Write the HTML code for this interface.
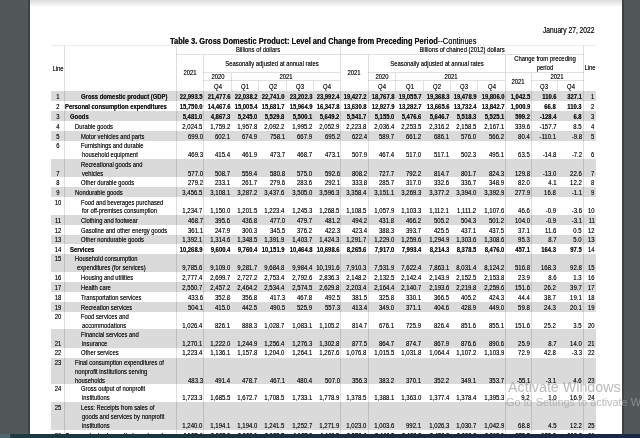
<!DOCTYPE html>
<html><head><meta charset="utf-8"><style>
html,body{margin:0;padding:0;}
body{width:640px;height:438px;overflow:hidden;position:relative;background:#52575a;font-family:"Liberation Sans", sans-serif;}
.t{position:absolute;white-space:nowrap;text-shadow:0 0 0.45px rgba(0,0,0,0.75);}
.r{position:absolute;}
.w{position:absolute;white-space:nowrap;}
</style></head><body>
<div class="r" style="left:0.00px;top:0.00px;width:640.00px;height:438.00px;background:#52575a;"></div>
<div class="r" style="left:27.50px;top:0.00px;width:2.80px;height:438.00px;background:#3e4245;"></div>
<div class="r" style="left:621.60px;top:0.00px;width:2.40px;height:438.00px;background:#3e4245;"></div>
<div class="r" style="left:30.20px;top:0.00px;width:591.50px;height:438.00px;background:#ffffff;"></div>
<div class="r" style="left:30.20px;top:0.00px;width:591.50px;height:7.00px;background:linear-gradient(#dcdcdc,#ffffff);"></div>
<div id="c" style="position:absolute;left:0;top:0;width:640px;height:438px;filter:grayscale(0)">
<div class="r" style="left:51.00px;top:90.80px;width:545.00px;height:9.90px;background:#dadada;"></div>
<div class="r" style="left:51.00px;top:110.60px;width:545.00px;height:10.00px;background:#dadada;"></div>
<div class="r" style="left:51.00px;top:130.60px;width:545.00px;height:10.00px;background:#dadada;"></div>
<div class="r" style="left:51.00px;top:159.00px;width:545.00px;height:18.40px;background:#dadada;"></div>
<div class="r" style="left:51.00px;top:187.30px;width:545.00px;height:9.70px;background:#dadada;"></div>
<div class="r" style="left:51.00px;top:215.10px;width:545.00px;height:9.60px;background:#dadada;"></div>
<div class="r" style="left:51.00px;top:234.70px;width:545.00px;height:9.60px;background:#dadada;"></div>
<div class="r" style="left:51.00px;top:254.30px;width:545.00px;height:17.60px;background:#dadada;"></div>
<div class="r" style="left:51.00px;top:281.90px;width:545.00px;height:9.80px;background:#dadada;"></div>
<div class="r" style="left:51.00px;top:301.90px;width:545.00px;height:9.80px;background:#dadada;"></div>
<div class="r" style="left:51.00px;top:329.20px;width:545.00px;height:18.50px;background:#dadada;"></div>
<div class="r" style="left:51.00px;top:357.50px;width:545.00px;height:26.70px;background:#dadada;"></div>
<div class="r" style="left:51.00px;top:402.00px;width:545.00px;height:27.80px;background:#dadada;"></div>
<div class="r" style="left:51.00px;top:45.30px;width:545.00px;height:1.00px;background:rgba(0,0,0,0.08);"></div>
<div class="r" style="left:176.40px;top:54.00px;width:407.20px;height:1.00px;background:rgba(0,0,0,0.12);"></div>
<div class="r" style="left:203.40px;top:72.20px;width:136.90px;height:1.00px;background:rgba(0,0,0,0.12);"></div>
<div class="r" style="left:368.40px;top:72.20px;width:137.10px;height:1.00px;background:rgba(0,0,0,0.12);"></div>
<div class="r" style="left:505.50px;top:72.20px;width:78.10px;height:1.00px;background:rgba(0,0,0,0.12);"></div>
<div class="r" style="left:203.40px;top:80.30px;width:136.90px;height:1.00px;background:rgba(0,0,0,0.12);"></div>
<div class="r" style="left:368.40px;top:80.30px;width:137.10px;height:1.00px;background:rgba(0,0,0,0.12);"></div>
<div class="r" style="left:531.30px;top:80.30px;width:52.30px;height:1.00px;background:rgba(0,0,0,0.12);"></div>
<div class="r" style="left:63.90px;top:45.80px;width:1.00px;height:392.20px;background:rgba(0,0,0,0.13);"></div>
<div class="r" style="left:175.90px;top:45.80px;width:1.00px;height:392.20px;background:rgba(0,0,0,0.13);"></div>
<div class="r" style="left:339.80px;top:45.80px;width:1.00px;height:392.20px;background:rgba(0,0,0,0.13);"></div>
<div class="r" style="left:583.10px;top:45.80px;width:1.00px;height:392.20px;background:rgba(0,0,0,0.13);"></div>
<div class="r" style="left:202.90px;top:54.50px;width:1.00px;height:383.50px;background:rgba(0,0,0,0.13);"></div>
<div class="r" style="left:367.90px;top:54.50px;width:1.00px;height:383.50px;background:rgba(0,0,0,0.13);"></div>
<div class="r" style="left:505.00px;top:54.50px;width:1.00px;height:383.50px;background:rgba(0,0,0,0.13);"></div>
<div class="r" style="left:231.10px;top:72.70px;width:1.00px;height:18.10px;background:rgba(0,0,0,0.12);"></div>
<div class="r" style="left:258.10px;top:80.80px;width:1.00px;height:10.00px;background:rgba(0,0,0,0.12);"></div>
<div class="r" style="left:286.20px;top:80.80px;width:1.00px;height:10.00px;background:rgba(0,0,0,0.12);"></div>
<div class="r" style="left:313.25px;top:80.80px;width:1.00px;height:10.00px;background:rgba(0,0,0,0.12);"></div>
<div class="r" style="left:395.00px;top:72.70px;width:1.00px;height:18.10px;background:rgba(0,0,0,0.12);"></div>
<div class="r" style="left:423.10px;top:80.80px;width:1.00px;height:10.00px;background:rgba(0,0,0,0.12);"></div>
<div class="r" style="left:450.00px;top:80.80px;width:1.00px;height:10.00px;background:rgba(0,0,0,0.12);"></div>
<div class="r" style="left:477.30px;top:80.80px;width:1.00px;height:10.00px;background:rgba(0,0,0,0.12);"></div>
<div class="r" style="left:530.80px;top:72.70px;width:1.00px;height:365.30px;background:rgba(0,0,0,0.13);"></div>
<div class="r" style="left:556.90px;top:80.80px;width:1.00px;height:10.00px;background:rgba(0,0,0,0.12);"></div>
<div class="t" style="right:45.60px;top:24.66px;font-size:8.6px;line-height:10.32px;transform:scaleX(0.775);transform-origin:100% 0;color:#1a1a1a;">January 27, 2022</div>
<div class="t" style="left:170.3px;top:35.21px;font-size:9.5px;line-height:11.4px;transform:scaleX(0.787);transform-origin:0 0;color:#111;white-space:nowrap"><b>Table 3. Gross Domestic Product: Level and Change from Preceding Period</b>--Continues</div>
<div class="t" style="left:58.35px;width:400px;text-align:center;top:45.21px;font-size:7.6px;line-height:9.12px;transform:scaleX(0.776);transform-origin:50% 0;color:#1a1a1a;">Billions of dollars</div>
<div class="t" style="left:261.95px;width:400px;text-align:center;top:45.21px;font-size:7.6px;line-height:9.12px;transform:scaleX(0.776);transform-origin:50% 0;color:#1a1a1a;">Billions of chained (2012) dollars</div>
<div class="t" style="left:71.85px;width:400px;text-align:center;top:59.21px;font-size:7.6px;line-height:9.12px;transform:scaleX(0.776);transform-origin:50% 0;color:#1a1a1a;">Seasonally adjusted at annual rates</div>
<div class="t" style="left:236.95px;width:400px;text-align:center;top:59.21px;font-size:7.6px;line-height:9.12px;transform:scaleX(0.776);transform-origin:50% 0;color:#1a1a1a;">Seasonally adjusted at annual rates</div>
<div class="t" style="left:344.55px;width:400px;text-align:center;top:54.21px;font-size:7.6px;line-height:9.12px;transform:scaleX(0.776);transform-origin:50% 0;color:#1a1a1a;">Change from preceding</div>
<div class="t" style="left:344.55px;width:400px;text-align:center;top:63.01px;font-size:7.6px;line-height:9.12px;transform:scaleX(0.776);transform-origin:50% 0;color:#1a1a1a;">period</div>
<div class="t" style="left:-142.30px;width:400px;text-align:center;top:63.51px;font-size:7.6px;line-height:9.12px;transform:scaleX(0.776);transform-origin:50% 0;color:#1a1a1a;">Line</div>
<div class="t" style="left:389.80px;width:400px;text-align:center;top:63.11px;font-size:7.6px;line-height:9.12px;transform:scaleX(0.776);transform-origin:50% 0;color:#1a1a1a;">Line</div>
<div class="t" style="left:-10.10px;width:400px;text-align:center;top:68.41px;font-size:7.6px;line-height:9.12px;transform:scaleX(0.776);transform-origin:50% 0;color:#1a1a1a;">2021</div>
<div class="t" style="left:154.35px;width:400px;text-align:center;top:68.41px;font-size:7.6px;line-height:9.12px;transform:scaleX(0.776);transform-origin:50% 0;color:#1a1a1a;">2021</div>
<div class="t" style="left:318.40px;width:400px;text-align:center;top:77.21px;font-size:7.6px;line-height:9.12px;transform:scaleX(0.776);transform-origin:50% 0;color:#1a1a1a;">2021</div>
<div class="t" style="left:17.50px;width:400px;text-align:center;top:72.41px;font-size:7.6px;line-height:9.12px;transform:scaleX(0.776);transform-origin:50% 0;color:#1a1a1a;">2020</div>
<div class="t" style="left:85.95px;width:400px;text-align:center;top:72.41px;font-size:7.6px;line-height:9.12px;transform:scaleX(0.776);transform-origin:50% 0;color:#1a1a1a;">2021</div>
<div class="t" style="left:181.95px;width:400px;text-align:center;top:72.41px;font-size:7.6px;line-height:9.12px;transform:scaleX(0.776);transform-origin:50% 0;color:#1a1a1a;">2020</div>
<div class="t" style="left:250.50px;width:400px;text-align:center;top:72.41px;font-size:7.6px;line-height:9.12px;transform:scaleX(0.776);transform-origin:50% 0;color:#1a1a1a;">2021</div>
<div class="t" style="left:357.45px;width:400px;text-align:center;top:71.81px;font-size:7.6px;line-height:9.12px;transform:scaleX(0.776);transform-origin:50% 0;color:#1a1a1a;">2021</div>
<div class="t" style="left:17.50px;width:400px;text-align:center;top:82.31px;font-size:7.6px;line-height:9.12px;transform:scaleX(0.776);transform-origin:50% 0;color:#1a1a1a;">Q4</div>
<div class="t" style="left:45.10px;width:400px;text-align:center;top:82.31px;font-size:7.6px;line-height:9.12px;transform:scaleX(0.776);transform-origin:50% 0;color:#1a1a1a;">Q1</div>
<div class="t" style="left:72.65px;width:400px;text-align:center;top:82.31px;font-size:7.6px;line-height:9.12px;transform:scaleX(0.776);transform-origin:50% 0;color:#1a1a1a;">Q2</div>
<div class="t" style="left:100.23px;width:400px;text-align:center;top:82.31px;font-size:7.6px;line-height:9.12px;transform:scaleX(0.776);transform-origin:50% 0;color:#1a1a1a;">Q3</div>
<div class="t" style="left:127.02px;width:400px;text-align:center;top:82.31px;font-size:7.6px;line-height:9.12px;transform:scaleX(0.776);transform-origin:50% 0;color:#1a1a1a;">Q4</div>
<div class="t" style="left:181.95px;width:400px;text-align:center;top:82.31px;font-size:7.6px;line-height:9.12px;transform:scaleX(0.776);transform-origin:50% 0;color:#1a1a1a;">Q4</div>
<div class="t" style="left:209.55px;width:400px;text-align:center;top:82.31px;font-size:7.6px;line-height:9.12px;transform:scaleX(0.776);transform-origin:50% 0;color:#1a1a1a;">Q1</div>
<div class="t" style="left:237.05px;width:400px;text-align:center;top:82.31px;font-size:7.6px;line-height:9.12px;transform:scaleX(0.776);transform-origin:50% 0;color:#1a1a1a;">Q2</div>
<div class="t" style="left:264.15px;width:400px;text-align:center;top:82.31px;font-size:7.6px;line-height:9.12px;transform:scaleX(0.776);transform-origin:50% 0;color:#1a1a1a;">Q3</div>
<div class="t" style="left:291.65px;width:400px;text-align:center;top:82.31px;font-size:7.6px;line-height:9.12px;transform:scaleX(0.776);transform-origin:50% 0;color:#1a1a1a;">Q4</div>
<div class="t" style="left:344.35px;width:400px;text-align:center;top:82.31px;font-size:7.6px;line-height:9.12px;transform:scaleX(0.776);transform-origin:50% 0;color:#1a1a1a;">Q3</div>
<div class="t" style="left:370.50px;width:400px;text-align:center;top:82.31px;font-size:7.6px;line-height:9.12px;transform:scaleX(0.776);transform-origin:50% 0;color:#1a1a1a;">Q4</div>
<div class="t" style="left:80.80px;top:91.61px;font-size:7.6px;line-height:9.12px;font-weight:bold;transform:scaleX(0.776);transform-origin:0 0;color:#1a1a1a;">Gross domestic product (GDP)</div>
<div class="t" style="left:-142.30px;width:400px;text-align:center;top:91.61px;font-size:7.6px;line-height:9.12px;transform:scaleX(0.776);transform-origin:50% 0;color:#1a1a1a;">1</div>
<div class="t" style="right:45.50px;top:91.61px;font-size:7.6px;line-height:9.12px;transform:scaleX(0.776);transform-origin:100% 0;color:#1a1a1a;">1</div>
<div class="t" style="right:437.40px;top:91.61px;font-size:7.6px;line-height:9.12px;font-weight:bold;transform:scaleX(0.775);transform-origin:100% 0;color:#1a1a1a;">22,993.5</div>
<div class="t" style="right:409.80px;top:91.61px;font-size:7.6px;line-height:9.12px;font-weight:bold;transform:scaleX(0.775);transform-origin:100% 0;color:#1a1a1a;">21,477.6</div>
<div class="t" style="right:382.50px;top:91.61px;font-size:7.6px;line-height:9.12px;font-weight:bold;transform:scaleX(0.775);transform-origin:100% 0;color:#1a1a1a;">22,038.2</div>
<div class="t" style="right:355.20px;top:91.61px;font-size:7.6px;line-height:9.12px;font-weight:bold;transform:scaleX(0.775);transform-origin:100% 0;color:#1a1a1a;">22,741.0</div>
<div class="t" style="right:327.80px;top:91.61px;font-size:7.6px;line-height:9.12px;font-weight:bold;transform:scaleX(0.775);transform-origin:100% 0;color:#1a1a1a;">23,202.3</div>
<div class="t" style="right:300.20px;top:91.61px;font-size:7.6px;line-height:9.12px;font-weight:bold;transform:scaleX(0.775);transform-origin:100% 0;color:#1a1a1a;">23,992.4</div>
<div class="t" style="right:273.20px;top:91.61px;font-size:7.6px;line-height:9.12px;font-weight:bold;transform:scaleX(0.775);transform-origin:100% 0;color:#1a1a1a;">19,427.2</div>
<div class="t" style="right:245.90px;top:91.61px;font-size:7.6px;line-height:9.12px;font-weight:bold;transform:scaleX(0.775);transform-origin:100% 0;color:#1a1a1a;">18,767.8</div>
<div class="t" style="right:218.50px;top:91.61px;font-size:7.6px;line-height:9.12px;font-weight:bold;transform:scaleX(0.775);transform-origin:100% 0;color:#1a1a1a;">19,055.7</div>
<div class="t" style="right:190.90px;top:91.61px;font-size:7.6px;line-height:9.12px;font-weight:bold;transform:scaleX(0.775);transform-origin:100% 0;color:#1a1a1a;">19,368.3</div>
<div class="t" style="right:163.70px;top:91.61px;font-size:7.6px;line-height:9.12px;font-weight:bold;transform:scaleX(0.775);transform-origin:100% 0;color:#1a1a1a;">19,478.9</div>
<div class="t" style="right:135.50px;top:91.61px;font-size:7.6px;line-height:9.12px;font-weight:bold;transform:scaleX(0.775);transform-origin:100% 0;color:#1a1a1a;">19,806.0</div>
<div class="t" style="right:110.00px;top:91.61px;font-size:7.6px;line-height:9.12px;font-weight:bold;transform:scaleX(0.775);transform-origin:100% 0;color:#1a1a1a;">1,042.5</div>
<div class="t" style="right:83.80px;top:91.61px;font-size:7.6px;line-height:9.12px;font-weight:bold;transform:scaleX(0.775);transform-origin:100% 0;color:#1a1a1a;">110.6</div>
<div class="t" style="right:58.30px;top:91.61px;font-size:7.6px;line-height:9.12px;font-weight:bold;transform:scaleX(0.775);transform-origin:100% 0;color:#1a1a1a;">327.1</div>
<div class="t" style="left:65.20px;top:101.51px;font-size:7.6px;line-height:9.12px;font-weight:bold;transform:scaleX(0.776);transform-origin:0 0;color:#1a1a1a;">Personal consumption expenditures</div>
<div class="t" style="left:-142.30px;width:400px;text-align:center;top:101.51px;font-size:7.6px;line-height:9.12px;transform:scaleX(0.776);transform-origin:50% 0;color:#1a1a1a;">2</div>
<div class="t" style="right:45.50px;top:101.51px;font-size:7.6px;line-height:9.12px;transform:scaleX(0.776);transform-origin:100% 0;color:#1a1a1a;">2</div>
<div class="t" style="right:437.40px;top:101.51px;font-size:7.6px;line-height:9.12px;font-weight:bold;transform:scaleX(0.775);transform-origin:100% 0;color:#1a1a1a;">15,750.0</div>
<div class="t" style="right:409.80px;top:101.51px;font-size:7.6px;line-height:9.12px;font-weight:bold;transform:scaleX(0.775);transform-origin:100% 0;color:#1a1a1a;">14,467.6</div>
<div class="t" style="right:382.50px;top:101.51px;font-size:7.6px;line-height:9.12px;font-weight:bold;transform:scaleX(0.775);transform-origin:100% 0;color:#1a1a1a;">15,005.4</div>
<div class="t" style="right:355.20px;top:101.51px;font-size:7.6px;line-height:9.12px;font-weight:bold;transform:scaleX(0.775);transform-origin:100% 0;color:#1a1a1a;">15,681.7</div>
<div class="t" style="right:327.80px;top:101.51px;font-size:7.6px;line-height:9.12px;font-weight:bold;transform:scaleX(0.775);transform-origin:100% 0;color:#1a1a1a;">15,964.9</div>
<div class="t" style="right:300.20px;top:101.51px;font-size:7.6px;line-height:9.12px;font-weight:bold;transform:scaleX(0.775);transform-origin:100% 0;color:#1a1a1a;">16,347.8</div>
<div class="t" style="right:273.20px;top:101.51px;font-size:7.6px;line-height:9.12px;font-weight:bold;transform:scaleX(0.775);transform-origin:100% 0;color:#1a1a1a;">13,630.8</div>
<div class="t" style="right:245.90px;top:101.51px;font-size:7.6px;line-height:9.12px;font-weight:bold;transform:scaleX(0.775);transform-origin:100% 0;color:#1a1a1a;">12,927.9</div>
<div class="t" style="right:218.50px;top:101.51px;font-size:7.6px;line-height:9.12px;font-weight:bold;transform:scaleX(0.775);transform-origin:100% 0;color:#1a1a1a;">13,282.7</div>
<div class="t" style="right:190.90px;top:101.51px;font-size:7.6px;line-height:9.12px;font-weight:bold;transform:scaleX(0.775);transform-origin:100% 0;color:#1a1a1a;">13,665.6</div>
<div class="t" style="right:163.70px;top:101.51px;font-size:7.6px;line-height:9.12px;font-weight:bold;transform:scaleX(0.775);transform-origin:100% 0;color:#1a1a1a;">13,732.4</div>
<div class="t" style="right:135.50px;top:101.51px;font-size:7.6px;line-height:9.12px;font-weight:bold;transform:scaleX(0.775);transform-origin:100% 0;color:#1a1a1a;">13,842.7</div>
<div class="t" style="right:110.00px;top:101.51px;font-size:7.6px;line-height:9.12px;font-weight:bold;transform:scaleX(0.775);transform-origin:100% 0;color:#1a1a1a;">1,000.9</div>
<div class="t" style="right:83.80px;top:101.51px;font-size:7.6px;line-height:9.12px;font-weight:bold;transform:scaleX(0.775);transform-origin:100% 0;color:#1a1a1a;">66.8</div>
<div class="t" style="right:58.30px;top:101.51px;font-size:7.6px;line-height:9.12px;font-weight:bold;transform:scaleX(0.775);transform-origin:100% 0;color:#1a1a1a;">110.3</div>
<div class="t" style="left:70.30px;top:111.51px;font-size:7.6px;line-height:9.12px;font-weight:bold;transform:scaleX(0.776);transform-origin:0 0;color:#1a1a1a;">Goods</div>
<div class="t" style="left:-142.30px;width:400px;text-align:center;top:111.51px;font-size:7.6px;line-height:9.12px;transform:scaleX(0.776);transform-origin:50% 0;color:#1a1a1a;">3</div>
<div class="t" style="right:45.50px;top:111.51px;font-size:7.6px;line-height:9.12px;transform:scaleX(0.776);transform-origin:100% 0;color:#1a1a1a;">3</div>
<div class="t" style="right:437.40px;top:111.51px;font-size:7.6px;line-height:9.12px;font-weight:bold;transform:scaleX(0.775);transform-origin:100% 0;color:#1a1a1a;">5,481.0</div>
<div class="t" style="right:409.80px;top:111.51px;font-size:7.6px;line-height:9.12px;font-weight:bold;transform:scaleX(0.775);transform-origin:100% 0;color:#1a1a1a;">4,867.3</div>
<div class="t" style="right:382.50px;top:111.51px;font-size:7.6px;line-height:9.12px;font-weight:bold;transform:scaleX(0.775);transform-origin:100% 0;color:#1a1a1a;">5,245.0</div>
<div class="t" style="right:355.20px;top:111.51px;font-size:7.6px;line-height:9.12px;font-weight:bold;transform:scaleX(0.775);transform-origin:100% 0;color:#1a1a1a;">5,529.8</div>
<div class="t" style="right:327.80px;top:111.51px;font-size:7.6px;line-height:9.12px;font-weight:bold;transform:scaleX(0.775);transform-origin:100% 0;color:#1a1a1a;">5,500.1</div>
<div class="t" style="right:300.20px;top:111.51px;font-size:7.6px;line-height:9.12px;font-weight:bold;transform:scaleX(0.775);transform-origin:100% 0;color:#1a1a1a;">5,649.2</div>
<div class="t" style="right:273.20px;top:111.51px;font-size:7.6px;line-height:9.12px;font-weight:bold;transform:scaleX(0.775);transform-origin:100% 0;color:#1a1a1a;">5,541.7</div>
<div class="t" style="right:245.90px;top:111.51px;font-size:7.6px;line-height:9.12px;font-weight:bold;transform:scaleX(0.775);transform-origin:100% 0;color:#1a1a1a;">5,155.0</div>
<div class="t" style="right:218.50px;top:111.51px;font-size:7.6px;line-height:9.12px;font-weight:bold;transform:scaleX(0.775);transform-origin:100% 0;color:#1a1a1a;">5,476.6</div>
<div class="t" style="right:190.90px;top:111.51px;font-size:7.6px;line-height:9.12px;font-weight:bold;transform:scaleX(0.775);transform-origin:100% 0;color:#1a1a1a;">5,646.7</div>
<div class="t" style="right:163.70px;top:111.51px;font-size:7.6px;line-height:9.12px;font-weight:bold;transform:scaleX(0.775);transform-origin:100% 0;color:#1a1a1a;">5,518.3</div>
<div class="t" style="right:135.50px;top:111.51px;font-size:7.6px;line-height:9.12px;font-weight:bold;transform:scaleX(0.775);transform-origin:100% 0;color:#1a1a1a;">5,525.1</div>
<div class="t" style="right:110.00px;top:111.51px;font-size:7.6px;line-height:9.12px;font-weight:bold;transform:scaleX(0.775);transform-origin:100% 0;color:#1a1a1a;">599.2</div>
<div class="t" style="right:83.80px;top:111.51px;font-size:7.6px;line-height:9.12px;font-weight:bold;transform:scaleX(0.775);transform-origin:100% 0;color:#1a1a1a;">-128.4</div>
<div class="t" style="right:58.30px;top:111.51px;font-size:7.6px;line-height:9.12px;font-weight:bold;transform:scaleX(0.775);transform-origin:100% 0;color:#1a1a1a;">6.8</div>
<div class="t" style="left:75.30px;top:121.51px;font-size:7.6px;line-height:9.12px;transform:scaleX(0.768);transform-origin:0 0;color:#1a1a1a;">Durable goods</div>
<div class="t" style="left:-142.30px;width:400px;text-align:center;top:121.51px;font-size:7.6px;line-height:9.12px;transform:scaleX(0.776);transform-origin:50% 0;color:#1a1a1a;">4</div>
<div class="t" style="right:45.50px;top:121.51px;font-size:7.6px;line-height:9.12px;transform:scaleX(0.776);transform-origin:100% 0;color:#1a1a1a;">4</div>
<div class="t" style="right:437.40px;top:121.51px;font-size:7.6px;line-height:9.12px;transform:scaleX(0.79);transform-origin:100% 0;color:#1a1a1a;">2,024.5</div>
<div class="t" style="right:409.80px;top:121.51px;font-size:7.6px;line-height:9.12px;transform:scaleX(0.79);transform-origin:100% 0;color:#1a1a1a;">1,759.2</div>
<div class="t" style="right:382.50px;top:121.51px;font-size:7.6px;line-height:9.12px;transform:scaleX(0.79);transform-origin:100% 0;color:#1a1a1a;">1,957.8</div>
<div class="t" style="right:355.20px;top:121.51px;font-size:7.6px;line-height:9.12px;transform:scaleX(0.79);transform-origin:100% 0;color:#1a1a1a;">2,092.2</div>
<div class="t" style="right:327.80px;top:121.51px;font-size:7.6px;line-height:9.12px;transform:scaleX(0.79);transform-origin:100% 0;color:#1a1a1a;">1,995.2</div>
<div class="t" style="right:300.20px;top:121.51px;font-size:7.6px;line-height:9.12px;transform:scaleX(0.79);transform-origin:100% 0;color:#1a1a1a;">2,052.9</div>
<div class="t" style="right:273.20px;top:121.51px;font-size:7.6px;line-height:9.12px;transform:scaleX(0.79);transform-origin:100% 0;color:#1a1a1a;">2,223.8</div>
<div class="t" style="right:245.90px;top:121.51px;font-size:7.6px;line-height:9.12px;transform:scaleX(0.79);transform-origin:100% 0;color:#1a1a1a;">2,036.4</div>
<div class="t" style="right:218.50px;top:121.51px;font-size:7.6px;line-height:9.12px;transform:scaleX(0.79);transform-origin:100% 0;color:#1a1a1a;">2,253.5</div>
<div class="t" style="right:190.90px;top:121.51px;font-size:7.6px;line-height:9.12px;transform:scaleX(0.79);transform-origin:100% 0;color:#1a1a1a;">2,316.2</div>
<div class="t" style="right:163.70px;top:121.51px;font-size:7.6px;line-height:9.12px;transform:scaleX(0.79);transform-origin:100% 0;color:#1a1a1a;">2,158.5</div>
<div class="t" style="right:135.50px;top:121.51px;font-size:7.6px;line-height:9.12px;transform:scaleX(0.79);transform-origin:100% 0;color:#1a1a1a;">2,167.1</div>
<div class="t" style="right:110.00px;top:121.51px;font-size:7.6px;line-height:9.12px;transform:scaleX(0.79);transform-origin:100% 0;color:#1a1a1a;">339.6</div>
<div class="t" style="right:83.80px;top:121.51px;font-size:7.6px;line-height:9.12px;transform:scaleX(0.79);transform-origin:100% 0;color:#1a1a1a;">-157.7</div>
<div class="t" style="right:58.30px;top:121.51px;font-size:7.6px;line-height:9.12px;transform:scaleX(0.79);transform-origin:100% 0;color:#1a1a1a;">8.5</div>
<div class="t" style="left:80.80px;top:131.51px;font-size:7.6px;line-height:9.12px;transform:scaleX(0.768);transform-origin:0 0;color:#1a1a1a;">Motor vehicles and parts</div>
<div class="t" style="left:-142.30px;width:400px;text-align:center;top:131.51px;font-size:7.6px;line-height:9.12px;transform:scaleX(0.776);transform-origin:50% 0;color:#1a1a1a;">5</div>
<div class="t" style="right:45.50px;top:131.51px;font-size:7.6px;line-height:9.12px;transform:scaleX(0.776);transform-origin:100% 0;color:#1a1a1a;">5</div>
<div class="t" style="right:437.40px;top:131.51px;font-size:7.6px;line-height:9.12px;transform:scaleX(0.79);transform-origin:100% 0;color:#1a1a1a;">699.0</div>
<div class="t" style="right:409.80px;top:131.51px;font-size:7.6px;line-height:9.12px;transform:scaleX(0.79);transform-origin:100% 0;color:#1a1a1a;">602.1</div>
<div class="t" style="right:382.50px;top:131.51px;font-size:7.6px;line-height:9.12px;transform:scaleX(0.79);transform-origin:100% 0;color:#1a1a1a;">674.9</div>
<div class="t" style="right:355.20px;top:131.51px;font-size:7.6px;line-height:9.12px;transform:scaleX(0.79);transform-origin:100% 0;color:#1a1a1a;">758.1</div>
<div class="t" style="right:327.80px;top:131.51px;font-size:7.6px;line-height:9.12px;transform:scaleX(0.79);transform-origin:100% 0;color:#1a1a1a;">667.9</div>
<div class="t" style="right:300.20px;top:131.51px;font-size:7.6px;line-height:9.12px;transform:scaleX(0.79);transform-origin:100% 0;color:#1a1a1a;">695.2</div>
<div class="t" style="right:273.20px;top:131.51px;font-size:7.6px;line-height:9.12px;transform:scaleX(0.79);transform-origin:100% 0;color:#1a1a1a;">622.4</div>
<div class="t" style="right:245.90px;top:131.51px;font-size:7.6px;line-height:9.12px;transform:scaleX(0.79);transform-origin:100% 0;color:#1a1a1a;">589.7</div>
<div class="t" style="right:218.50px;top:131.51px;font-size:7.6px;line-height:9.12px;transform:scaleX(0.79);transform-origin:100% 0;color:#1a1a1a;">661.2</div>
<div class="t" style="right:190.90px;top:131.51px;font-size:7.6px;line-height:9.12px;transform:scaleX(0.79);transform-origin:100% 0;color:#1a1a1a;">686.1</div>
<div class="t" style="right:163.70px;top:131.51px;font-size:7.6px;line-height:9.12px;transform:scaleX(0.79);transform-origin:100% 0;color:#1a1a1a;">576.0</div>
<div class="t" style="right:135.50px;top:131.51px;font-size:7.6px;line-height:9.12px;transform:scaleX(0.79);transform-origin:100% 0;color:#1a1a1a;">566.2</div>
<div class="t" style="right:110.00px;top:131.51px;font-size:7.6px;line-height:9.12px;transform:scaleX(0.79);transform-origin:100% 0;color:#1a1a1a;">80.4</div>
<div class="t" style="right:83.80px;top:131.51px;font-size:7.6px;line-height:9.12px;transform:scaleX(0.79);transform-origin:100% 0;color:#1a1a1a;">-110.1</div>
<div class="t" style="right:58.30px;top:131.51px;font-size:7.6px;line-height:9.12px;transform:scaleX(0.79);transform-origin:100% 0;color:#1a1a1a;">-9.8</div>
<div class="t" style="left:80.80px;top:141.41px;font-size:7.6px;line-height:9.12px;transform:scaleX(0.768);transform-origin:0 0;color:#1a1a1a;">Furnishings and durable</div>
<div class="t" style="left:82.20px;top:150.31px;font-size:7.6px;line-height:9.12px;transform:scaleX(0.768);transform-origin:0 0;color:#1a1a1a;">household equipment</div>
<div class="t" style="left:-142.30px;width:400px;text-align:center;top:141.41px;font-size:7.6px;line-height:9.12px;transform:scaleX(0.776);transform-origin:50% 0;color:#1a1a1a;">6</div>
<div class="t" style="right:45.50px;top:150.31px;font-size:7.6px;line-height:9.12px;transform:scaleX(0.776);transform-origin:100% 0;color:#1a1a1a;">6</div>
<div class="t" style="right:437.40px;top:150.31px;font-size:7.6px;line-height:9.12px;transform:scaleX(0.79);transform-origin:100% 0;color:#1a1a1a;">469.3</div>
<div class="t" style="right:409.80px;top:150.31px;font-size:7.6px;line-height:9.12px;transform:scaleX(0.79);transform-origin:100% 0;color:#1a1a1a;">415.4</div>
<div class="t" style="right:382.50px;top:150.31px;font-size:7.6px;line-height:9.12px;transform:scaleX(0.79);transform-origin:100% 0;color:#1a1a1a;">461.9</div>
<div class="t" style="right:355.20px;top:150.31px;font-size:7.6px;line-height:9.12px;transform:scaleX(0.79);transform-origin:100% 0;color:#1a1a1a;">473.7</div>
<div class="t" style="right:327.80px;top:150.31px;font-size:7.6px;line-height:9.12px;transform:scaleX(0.79);transform-origin:100% 0;color:#1a1a1a;">468.7</div>
<div class="t" style="right:300.20px;top:150.31px;font-size:7.6px;line-height:9.12px;transform:scaleX(0.79);transform-origin:100% 0;color:#1a1a1a;">473.1</div>
<div class="t" style="right:273.20px;top:150.31px;font-size:7.6px;line-height:9.12px;transform:scaleX(0.79);transform-origin:100% 0;color:#1a1a1a;">507.9</div>
<div class="t" style="right:245.90px;top:150.31px;font-size:7.6px;line-height:9.12px;transform:scaleX(0.79);transform-origin:100% 0;color:#1a1a1a;">467.4</div>
<div class="t" style="right:218.50px;top:150.31px;font-size:7.6px;line-height:9.12px;transform:scaleX(0.79);transform-origin:100% 0;color:#1a1a1a;">517.0</div>
<div class="t" style="right:190.90px;top:150.31px;font-size:7.6px;line-height:9.12px;transform:scaleX(0.79);transform-origin:100% 0;color:#1a1a1a;">517.1</div>
<div class="t" style="right:163.70px;top:150.31px;font-size:7.6px;line-height:9.12px;transform:scaleX(0.79);transform-origin:100% 0;color:#1a1a1a;">502.3</div>
<div class="t" style="right:135.50px;top:150.31px;font-size:7.6px;line-height:9.12px;transform:scaleX(0.79);transform-origin:100% 0;color:#1a1a1a;">495.1</div>
<div class="t" style="right:110.00px;top:150.31px;font-size:7.6px;line-height:9.12px;transform:scaleX(0.79);transform-origin:100% 0;color:#1a1a1a;">63.5</div>
<div class="t" style="right:83.80px;top:150.31px;font-size:7.6px;line-height:9.12px;transform:scaleX(0.79);transform-origin:100% 0;color:#1a1a1a;">-14.8</div>
<div class="t" style="right:58.30px;top:150.31px;font-size:7.6px;line-height:9.12px;transform:scaleX(0.79);transform-origin:100% 0;color:#1a1a1a;">-7.2</div>
<div class="t" style="left:80.80px;top:159.81px;font-size:7.6px;line-height:9.12px;transform:scaleX(0.768);transform-origin:0 0;color:#1a1a1a;">Recreational goods and</div>
<div class="t" style="left:82.20px;top:168.71px;font-size:7.6px;line-height:9.12px;transform:scaleX(0.768);transform-origin:0 0;color:#1a1a1a;">vehicles</div>
<div class="t" style="left:-142.30px;width:400px;text-align:center;top:168.71px;font-size:7.6px;line-height:9.12px;transform:scaleX(0.776);transform-origin:50% 0;color:#1a1a1a;">7</div>
<div class="t" style="right:45.50px;top:168.71px;font-size:7.6px;line-height:9.12px;transform:scaleX(0.776);transform-origin:100% 0;color:#1a1a1a;">7</div>
<div class="t" style="right:437.40px;top:168.71px;font-size:7.6px;line-height:9.12px;transform:scaleX(0.79);transform-origin:100% 0;color:#1a1a1a;">577.0</div>
<div class="t" style="right:409.80px;top:168.71px;font-size:7.6px;line-height:9.12px;transform:scaleX(0.79);transform-origin:100% 0;color:#1a1a1a;">508.7</div>
<div class="t" style="right:382.50px;top:168.71px;font-size:7.6px;line-height:9.12px;transform:scaleX(0.79);transform-origin:100% 0;color:#1a1a1a;">559.4</div>
<div class="t" style="right:355.20px;top:168.71px;font-size:7.6px;line-height:9.12px;transform:scaleX(0.79);transform-origin:100% 0;color:#1a1a1a;">580.8</div>
<div class="t" style="right:327.80px;top:168.71px;font-size:7.6px;line-height:9.12px;transform:scaleX(0.79);transform-origin:100% 0;color:#1a1a1a;">575.0</div>
<div class="t" style="right:300.20px;top:168.71px;font-size:7.6px;line-height:9.12px;transform:scaleX(0.79);transform-origin:100% 0;color:#1a1a1a;">592.6</div>
<div class="t" style="right:273.20px;top:168.71px;font-size:7.6px;line-height:9.12px;transform:scaleX(0.79);transform-origin:100% 0;color:#1a1a1a;">808.2</div>
<div class="t" style="right:245.90px;top:168.71px;font-size:7.6px;line-height:9.12px;transform:scaleX(0.79);transform-origin:100% 0;color:#1a1a1a;">727.7</div>
<div class="t" style="right:218.50px;top:168.71px;font-size:7.6px;line-height:9.12px;transform:scaleX(0.79);transform-origin:100% 0;color:#1a1a1a;">792.2</div>
<div class="t" style="right:190.90px;top:168.71px;font-size:7.6px;line-height:9.12px;transform:scaleX(0.79);transform-origin:100% 0;color:#1a1a1a;">814.7</div>
<div class="t" style="right:163.70px;top:168.71px;font-size:7.6px;line-height:9.12px;transform:scaleX(0.79);transform-origin:100% 0;color:#1a1a1a;">801.7</div>
<div class="t" style="right:135.50px;top:168.71px;font-size:7.6px;line-height:9.12px;transform:scaleX(0.79);transform-origin:100% 0;color:#1a1a1a;">824.3</div>
<div class="t" style="right:110.00px;top:168.71px;font-size:7.6px;line-height:9.12px;transform:scaleX(0.79);transform-origin:100% 0;color:#1a1a1a;">129.8</div>
<div class="t" style="right:83.80px;top:168.71px;font-size:7.6px;line-height:9.12px;transform:scaleX(0.79);transform-origin:100% 0;color:#1a1a1a;">-13.0</div>
<div class="t" style="right:58.30px;top:168.71px;font-size:7.6px;line-height:9.12px;transform:scaleX(0.79);transform-origin:100% 0;color:#1a1a1a;">22.6</div>
<div class="t" style="left:80.80px;top:178.21px;font-size:7.6px;line-height:9.12px;transform:scaleX(0.768);transform-origin:0 0;color:#1a1a1a;">Other durable goods</div>
<div class="t" style="left:-142.30px;width:400px;text-align:center;top:178.21px;font-size:7.6px;line-height:9.12px;transform:scaleX(0.776);transform-origin:50% 0;color:#1a1a1a;">8</div>
<div class="t" style="right:45.50px;top:178.21px;font-size:7.6px;line-height:9.12px;transform:scaleX(0.776);transform-origin:100% 0;color:#1a1a1a;">8</div>
<div class="t" style="right:437.40px;top:178.21px;font-size:7.6px;line-height:9.12px;transform:scaleX(0.79);transform-origin:100% 0;color:#1a1a1a;">279.2</div>
<div class="t" style="right:409.80px;top:178.21px;font-size:7.6px;line-height:9.12px;transform:scaleX(0.79);transform-origin:100% 0;color:#1a1a1a;">233.1</div>
<div class="t" style="right:382.50px;top:178.21px;font-size:7.6px;line-height:9.12px;transform:scaleX(0.79);transform-origin:100% 0;color:#1a1a1a;">261.7</div>
<div class="t" style="right:355.20px;top:178.21px;font-size:7.6px;line-height:9.12px;transform:scaleX(0.79);transform-origin:100% 0;color:#1a1a1a;">279.6</div>
<div class="t" style="right:327.80px;top:178.21px;font-size:7.6px;line-height:9.12px;transform:scaleX(0.79);transform-origin:100% 0;color:#1a1a1a;">283.6</div>
<div class="t" style="right:300.20px;top:178.21px;font-size:7.6px;line-height:9.12px;transform:scaleX(0.79);transform-origin:100% 0;color:#1a1a1a;">292.1</div>
<div class="t" style="right:273.20px;top:178.21px;font-size:7.6px;line-height:9.12px;transform:scaleX(0.79);transform-origin:100% 0;color:#1a1a1a;">333.8</div>
<div class="t" style="right:245.90px;top:178.21px;font-size:7.6px;line-height:9.12px;transform:scaleX(0.79);transform-origin:100% 0;color:#1a1a1a;">285.7</div>
<div class="t" style="right:218.50px;top:178.21px;font-size:7.6px;line-height:9.12px;transform:scaleX(0.79);transform-origin:100% 0;color:#1a1a1a;">317.0</div>
<div class="t" style="right:190.90px;top:178.21px;font-size:7.6px;line-height:9.12px;transform:scaleX(0.79);transform-origin:100% 0;color:#1a1a1a;">332.6</div>
<div class="t" style="right:163.70px;top:178.21px;font-size:7.6px;line-height:9.12px;transform:scaleX(0.79);transform-origin:100% 0;color:#1a1a1a;">336.7</div>
<div class="t" style="right:135.50px;top:178.21px;font-size:7.6px;line-height:9.12px;transform:scaleX(0.79);transform-origin:100% 0;color:#1a1a1a;">348.9</div>
<div class="t" style="right:110.00px;top:178.21px;font-size:7.6px;line-height:9.12px;transform:scaleX(0.79);transform-origin:100% 0;color:#1a1a1a;">82.0</div>
<div class="t" style="right:83.80px;top:178.21px;font-size:7.6px;line-height:9.12px;transform:scaleX(0.79);transform-origin:100% 0;color:#1a1a1a;">4.1</div>
<div class="t" style="right:58.30px;top:178.21px;font-size:7.6px;line-height:9.12px;transform:scaleX(0.79);transform-origin:100% 0;color:#1a1a1a;">12.2</div>
<div class="t" style="left:75.30px;top:187.91px;font-size:7.6px;line-height:9.12px;transform:scaleX(0.768);transform-origin:0 0;color:#1a1a1a;">Nondurable goods</div>
<div class="t" style="left:-142.30px;width:400px;text-align:center;top:187.91px;font-size:7.6px;line-height:9.12px;transform:scaleX(0.776);transform-origin:50% 0;color:#1a1a1a;">9</div>
<div class="t" style="right:45.50px;top:187.91px;font-size:7.6px;line-height:9.12px;transform:scaleX(0.776);transform-origin:100% 0;color:#1a1a1a;">9</div>
<div class="t" style="right:437.40px;top:187.91px;font-size:7.6px;line-height:9.12px;transform:scaleX(0.79);transform-origin:100% 0;color:#1a1a1a;">3,456.5</div>
<div class="t" style="right:409.80px;top:187.91px;font-size:7.6px;line-height:9.12px;transform:scaleX(0.79);transform-origin:100% 0;color:#1a1a1a;">3,108.1</div>
<div class="t" style="right:382.50px;top:187.91px;font-size:7.6px;line-height:9.12px;transform:scaleX(0.79);transform-origin:100% 0;color:#1a1a1a;">3,287.2</div>
<div class="t" style="right:355.20px;top:187.91px;font-size:7.6px;line-height:9.12px;transform:scaleX(0.79);transform-origin:100% 0;color:#1a1a1a;">3,437.6</div>
<div class="t" style="right:327.80px;top:187.91px;font-size:7.6px;line-height:9.12px;transform:scaleX(0.79);transform-origin:100% 0;color:#1a1a1a;">3,505.0</div>
<div class="t" style="right:300.20px;top:187.91px;font-size:7.6px;line-height:9.12px;transform:scaleX(0.79);transform-origin:100% 0;color:#1a1a1a;">3,596.3</div>
<div class="t" style="right:273.20px;top:187.91px;font-size:7.6px;line-height:9.12px;transform:scaleX(0.79);transform-origin:100% 0;color:#1a1a1a;">3,358.4</div>
<div class="t" style="right:245.90px;top:187.91px;font-size:7.6px;line-height:9.12px;transform:scaleX(0.79);transform-origin:100% 0;color:#1a1a1a;">3,151.1</div>
<div class="t" style="right:218.50px;top:187.91px;font-size:7.6px;line-height:9.12px;transform:scaleX(0.79);transform-origin:100% 0;color:#1a1a1a;">3,269.3</div>
<div class="t" style="right:190.90px;top:187.91px;font-size:7.6px;line-height:9.12px;transform:scaleX(0.79);transform-origin:100% 0;color:#1a1a1a;">3,377.2</div>
<div class="t" style="right:163.70px;top:187.91px;font-size:7.6px;line-height:9.12px;transform:scaleX(0.79);transform-origin:100% 0;color:#1a1a1a;">3,394.0</div>
<div class="t" style="right:135.50px;top:187.91px;font-size:7.6px;line-height:9.12px;transform:scaleX(0.79);transform-origin:100% 0;color:#1a1a1a;">3,392.9</div>
<div class="t" style="right:110.00px;top:187.91px;font-size:7.6px;line-height:9.12px;transform:scaleX(0.79);transform-origin:100% 0;color:#1a1a1a;">277.9</div>
<div class="t" style="right:83.80px;top:187.91px;font-size:7.6px;line-height:9.12px;transform:scaleX(0.79);transform-origin:100% 0;color:#1a1a1a;">16.8</div>
<div class="t" style="right:58.30px;top:187.91px;font-size:7.6px;line-height:9.12px;transform:scaleX(0.79);transform-origin:100% 0;color:#1a1a1a;">-1.1</div>
<div class="t" style="left:80.80px;top:197.51px;font-size:7.6px;line-height:9.12px;transform:scaleX(0.768);transform-origin:0 0;color:#1a1a1a;">Food and beverages purchased</div>
<div class="t" style="left:82.20px;top:206.41px;font-size:7.6px;line-height:9.12px;transform:scaleX(0.768);transform-origin:0 0;color:#1a1a1a;">for off-premises consumption</div>
<div class="t" style="left:-142.30px;width:400px;text-align:center;top:197.51px;font-size:7.6px;line-height:9.12px;transform:scaleX(0.776);transform-origin:50% 0;color:#1a1a1a;">10</div>
<div class="t" style="right:45.50px;top:206.41px;font-size:7.6px;line-height:9.12px;transform:scaleX(0.776);transform-origin:100% 0;color:#1a1a1a;">10</div>
<div class="t" style="right:437.40px;top:206.41px;font-size:7.6px;line-height:9.12px;transform:scaleX(0.79);transform-origin:100% 0;color:#1a1a1a;">1,234.7</div>
<div class="t" style="right:409.80px;top:206.41px;font-size:7.6px;line-height:9.12px;transform:scaleX(0.79);transform-origin:100% 0;color:#1a1a1a;">1,150.0</div>
<div class="t" style="right:382.50px;top:206.41px;font-size:7.6px;line-height:9.12px;transform:scaleX(0.79);transform-origin:100% 0;color:#1a1a1a;">1,201.5</div>
<div class="t" style="right:355.20px;top:206.41px;font-size:7.6px;line-height:9.12px;transform:scaleX(0.79);transform-origin:100% 0;color:#1a1a1a;">1,223.4</div>
<div class="t" style="right:327.80px;top:206.41px;font-size:7.6px;line-height:9.12px;transform:scaleX(0.79);transform-origin:100% 0;color:#1a1a1a;">1,245.3</div>
<div class="t" style="right:300.20px;top:206.41px;font-size:7.6px;line-height:9.12px;transform:scaleX(0.79);transform-origin:100% 0;color:#1a1a1a;">1,268.5</div>
<div class="t" style="right:273.20px;top:206.41px;font-size:7.6px;line-height:9.12px;transform:scaleX(0.79);transform-origin:100% 0;color:#1a1a1a;">1,108.5</div>
<div class="t" style="right:245.90px;top:206.41px;font-size:7.6px;line-height:9.12px;transform:scaleX(0.79);transform-origin:100% 0;color:#1a1a1a;">1,057.9</div>
<div class="t" style="right:218.50px;top:206.41px;font-size:7.6px;line-height:9.12px;transform:scaleX(0.79);transform-origin:100% 0;color:#1a1a1a;">1,103.3</div>
<div class="t" style="right:190.90px;top:206.41px;font-size:7.6px;line-height:9.12px;transform:scaleX(0.79);transform-origin:100% 0;color:#1a1a1a;">1,112.1</div>
<div class="t" style="right:163.70px;top:206.41px;font-size:7.6px;line-height:9.12px;transform:scaleX(0.79);transform-origin:100% 0;color:#1a1a1a;">1,111.2</div>
<div class="t" style="right:135.50px;top:206.41px;font-size:7.6px;line-height:9.12px;transform:scaleX(0.79);transform-origin:100% 0;color:#1a1a1a;">1,107.6</div>
<div class="t" style="right:110.00px;top:206.41px;font-size:7.6px;line-height:9.12px;transform:scaleX(0.79);transform-origin:100% 0;color:#1a1a1a;">46.6</div>
<div class="t" style="right:83.80px;top:206.41px;font-size:7.6px;line-height:9.12px;transform:scaleX(0.79);transform-origin:100% 0;color:#1a1a1a;">-0.9</div>
<div class="t" style="right:58.30px;top:206.41px;font-size:7.6px;line-height:9.12px;transform:scaleX(0.79);transform-origin:100% 0;color:#1a1a1a;">-3.6</div>
<div class="t" style="left:80.80px;top:215.61px;font-size:7.6px;line-height:9.12px;transform:scaleX(0.768);transform-origin:0 0;color:#1a1a1a;">Clothing and footwear</div>
<div class="t" style="left:-142.30px;width:400px;text-align:center;top:215.61px;font-size:7.6px;line-height:9.12px;transform:scaleX(0.776);transform-origin:50% 0;color:#1a1a1a;">11</div>
<div class="t" style="right:45.50px;top:215.61px;font-size:7.6px;line-height:9.12px;transform:scaleX(0.776);transform-origin:100% 0;color:#1a1a1a;">11</div>
<div class="t" style="right:437.40px;top:215.61px;font-size:7.6px;line-height:9.12px;transform:scaleX(0.79);transform-origin:100% 0;color:#1a1a1a;">468.7</div>
<div class="t" style="right:409.80px;top:215.61px;font-size:7.6px;line-height:9.12px;transform:scaleX(0.79);transform-origin:100% 0;color:#1a1a1a;">395.6</div>
<div class="t" style="right:382.50px;top:215.61px;font-size:7.6px;line-height:9.12px;transform:scaleX(0.79);transform-origin:100% 0;color:#1a1a1a;">436.8</div>
<div class="t" style="right:355.20px;top:215.61px;font-size:7.6px;line-height:9.12px;transform:scaleX(0.79);transform-origin:100% 0;color:#1a1a1a;">477.0</div>
<div class="t" style="right:327.80px;top:215.61px;font-size:7.6px;line-height:9.12px;transform:scaleX(0.79);transform-origin:100% 0;color:#1a1a1a;">479.7</div>
<div class="t" style="right:300.20px;top:215.61px;font-size:7.6px;line-height:9.12px;transform:scaleX(0.79);transform-origin:100% 0;color:#1a1a1a;">481.2</div>
<div class="t" style="right:273.20px;top:215.61px;font-size:7.6px;line-height:9.12px;transform:scaleX(0.79);transform-origin:100% 0;color:#1a1a1a;">494.2</div>
<div class="t" style="right:245.90px;top:215.61px;font-size:7.6px;line-height:9.12px;transform:scaleX(0.79);transform-origin:100% 0;color:#1a1a1a;">431.8</div>
<div class="t" style="right:218.50px;top:215.61px;font-size:7.6px;line-height:9.12px;transform:scaleX(0.79);transform-origin:100% 0;color:#1a1a1a;">466.2</div>
<div class="t" style="right:190.90px;top:215.61px;font-size:7.6px;line-height:9.12px;transform:scaleX(0.79);transform-origin:100% 0;color:#1a1a1a;">505.2</div>
<div class="t" style="right:163.70px;top:215.61px;font-size:7.6px;line-height:9.12px;transform:scaleX(0.79);transform-origin:100% 0;color:#1a1a1a;">504.3</div>
<div class="t" style="right:135.50px;top:215.61px;font-size:7.6px;line-height:9.12px;transform:scaleX(0.79);transform-origin:100% 0;color:#1a1a1a;">501.2</div>
<div class="t" style="right:110.00px;top:215.61px;font-size:7.6px;line-height:9.12px;transform:scaleX(0.79);transform-origin:100% 0;color:#1a1a1a;">104.0</div>
<div class="t" style="right:83.80px;top:215.61px;font-size:7.6px;line-height:9.12px;transform:scaleX(0.79);transform-origin:100% 0;color:#1a1a1a;">-0.9</div>
<div class="t" style="right:58.30px;top:215.61px;font-size:7.6px;line-height:9.12px;transform:scaleX(0.79);transform-origin:100% 0;color:#1a1a1a;">-3.1</div>
<div class="t" style="left:80.80px;top:225.61px;font-size:7.6px;line-height:9.12px;transform:scaleX(0.768);transform-origin:0 0;color:#1a1a1a;">Gasoline and other energy goods</div>
<div class="t" style="left:-142.30px;width:400px;text-align:center;top:225.61px;font-size:7.6px;line-height:9.12px;transform:scaleX(0.776);transform-origin:50% 0;color:#1a1a1a;">12</div>
<div class="t" style="right:45.50px;top:225.61px;font-size:7.6px;line-height:9.12px;transform:scaleX(0.776);transform-origin:100% 0;color:#1a1a1a;">12</div>
<div class="t" style="right:437.40px;top:225.61px;font-size:7.6px;line-height:9.12px;transform:scaleX(0.79);transform-origin:100% 0;color:#1a1a1a;">361.1</div>
<div class="t" style="right:409.80px;top:225.61px;font-size:7.6px;line-height:9.12px;transform:scaleX(0.79);transform-origin:100% 0;color:#1a1a1a;">247.9</div>
<div class="t" style="right:382.50px;top:225.61px;font-size:7.6px;line-height:9.12px;transform:scaleX(0.79);transform-origin:100% 0;color:#1a1a1a;">300.3</div>
<div class="t" style="right:355.20px;top:225.61px;font-size:7.6px;line-height:9.12px;transform:scaleX(0.79);transform-origin:100% 0;color:#1a1a1a;">345.5</div>
<div class="t" style="right:327.80px;top:225.61px;font-size:7.6px;line-height:9.12px;transform:scaleX(0.79);transform-origin:100% 0;color:#1a1a1a;">376.2</div>
<div class="t" style="right:300.20px;top:225.61px;font-size:7.6px;line-height:9.12px;transform:scaleX(0.79);transform-origin:100% 0;color:#1a1a1a;">422.3</div>
<div class="t" style="right:273.20px;top:225.61px;font-size:7.6px;line-height:9.12px;transform:scaleX(0.79);transform-origin:100% 0;color:#1a1a1a;">423.4</div>
<div class="t" style="right:245.90px;top:225.61px;font-size:7.6px;line-height:9.12px;transform:scaleX(0.79);transform-origin:100% 0;color:#1a1a1a;">388.3</div>
<div class="t" style="right:218.50px;top:225.61px;font-size:7.6px;line-height:9.12px;transform:scaleX(0.79);transform-origin:100% 0;color:#1a1a1a;">393.7</div>
<div class="t" style="right:190.90px;top:225.61px;font-size:7.6px;line-height:9.12px;transform:scaleX(0.79);transform-origin:100% 0;color:#1a1a1a;">425.5</div>
<div class="t" style="right:163.70px;top:225.61px;font-size:7.6px;line-height:9.12px;transform:scaleX(0.79);transform-origin:100% 0;color:#1a1a1a;">437.1</div>
<div class="t" style="right:135.50px;top:225.61px;font-size:7.6px;line-height:9.12px;transform:scaleX(0.79);transform-origin:100% 0;color:#1a1a1a;">437.5</div>
<div class="t" style="right:110.00px;top:225.61px;font-size:7.6px;line-height:9.12px;transform:scaleX(0.79);transform-origin:100% 0;color:#1a1a1a;">37.1</div>
<div class="t" style="right:83.80px;top:225.61px;font-size:7.6px;line-height:9.12px;transform:scaleX(0.79);transform-origin:100% 0;color:#1a1a1a;">11.6</div>
<div class="t" style="right:58.30px;top:225.61px;font-size:7.6px;line-height:9.12px;transform:scaleX(0.79);transform-origin:100% 0;color:#1a1a1a;">0.5</div>
<div class="t" style="left:80.80px;top:235.21px;font-size:7.6px;line-height:9.12px;transform:scaleX(0.768);transform-origin:0 0;color:#1a1a1a;">Other nondurable goods</div>
<div class="t" style="left:-142.30px;width:400px;text-align:center;top:235.21px;font-size:7.6px;line-height:9.12px;transform:scaleX(0.776);transform-origin:50% 0;color:#1a1a1a;">13</div>
<div class="t" style="right:45.50px;top:235.21px;font-size:7.6px;line-height:9.12px;transform:scaleX(0.776);transform-origin:100% 0;color:#1a1a1a;">13</div>
<div class="t" style="right:437.40px;top:235.21px;font-size:7.6px;line-height:9.12px;transform:scaleX(0.79);transform-origin:100% 0;color:#1a1a1a;">1,392.1</div>
<div class="t" style="right:409.80px;top:235.21px;font-size:7.6px;line-height:9.12px;transform:scaleX(0.79);transform-origin:100% 0;color:#1a1a1a;">1,314.6</div>
<div class="t" style="right:382.50px;top:235.21px;font-size:7.6px;line-height:9.12px;transform:scaleX(0.79);transform-origin:100% 0;color:#1a1a1a;">1,348.5</div>
<div class="t" style="right:355.20px;top:235.21px;font-size:7.6px;line-height:9.12px;transform:scaleX(0.79);transform-origin:100% 0;color:#1a1a1a;">1,391.9</div>
<div class="t" style="right:327.80px;top:235.21px;font-size:7.6px;line-height:9.12px;transform:scaleX(0.79);transform-origin:100% 0;color:#1a1a1a;">1,403.7</div>
<div class="t" style="right:300.20px;top:235.21px;font-size:7.6px;line-height:9.12px;transform:scaleX(0.79);transform-origin:100% 0;color:#1a1a1a;">1,424.3</div>
<div class="t" style="right:273.20px;top:235.21px;font-size:7.6px;line-height:9.12px;transform:scaleX(0.79);transform-origin:100% 0;color:#1a1a1a;">1,291.7</div>
<div class="t" style="right:245.90px;top:235.21px;font-size:7.6px;line-height:9.12px;transform:scaleX(0.79);transform-origin:100% 0;color:#1a1a1a;">1,229.0</div>
<div class="t" style="right:218.50px;top:235.21px;font-size:7.6px;line-height:9.12px;transform:scaleX(0.79);transform-origin:100% 0;color:#1a1a1a;">1,259.6</div>
<div class="t" style="right:190.90px;top:235.21px;font-size:7.6px;line-height:9.12px;transform:scaleX(0.79);transform-origin:100% 0;color:#1a1a1a;">1,294.9</div>
<div class="t" style="right:163.70px;top:235.21px;font-size:7.6px;line-height:9.12px;transform:scaleX(0.79);transform-origin:100% 0;color:#1a1a1a;">1,303.6</div>
<div class="t" style="right:135.50px;top:235.21px;font-size:7.6px;line-height:9.12px;transform:scaleX(0.79);transform-origin:100% 0;color:#1a1a1a;">1,308.6</div>
<div class="t" style="right:110.00px;top:235.21px;font-size:7.6px;line-height:9.12px;transform:scaleX(0.79);transform-origin:100% 0;color:#1a1a1a;">95.3</div>
<div class="t" style="right:83.80px;top:235.21px;font-size:7.6px;line-height:9.12px;transform:scaleX(0.79);transform-origin:100% 0;color:#1a1a1a;">8.7</div>
<div class="t" style="right:58.30px;top:235.21px;font-size:7.6px;line-height:9.12px;transform:scaleX(0.79);transform-origin:100% 0;color:#1a1a1a;">5.0</div>
<div class="t" style="left:70.30px;top:245.21px;font-size:7.6px;line-height:9.12px;font-weight:bold;transform:scaleX(0.776);transform-origin:0 0;color:#1a1a1a;">Services</div>
<div class="t" style="left:-142.30px;width:400px;text-align:center;top:245.21px;font-size:7.6px;line-height:9.12px;transform:scaleX(0.776);transform-origin:50% 0;color:#1a1a1a;">14</div>
<div class="t" style="right:45.50px;top:245.21px;font-size:7.6px;line-height:9.12px;transform:scaleX(0.776);transform-origin:100% 0;color:#1a1a1a;">14</div>
<div class="t" style="right:437.40px;top:245.21px;font-size:7.6px;line-height:9.12px;font-weight:bold;transform:scaleX(0.775);transform-origin:100% 0;color:#1a1a1a;">10,268.9</div>
<div class="t" style="right:409.80px;top:245.21px;font-size:7.6px;line-height:9.12px;font-weight:bold;transform:scaleX(0.775);transform-origin:100% 0;color:#1a1a1a;">9,600.4</div>
<div class="t" style="right:382.50px;top:245.21px;font-size:7.6px;line-height:9.12px;font-weight:bold;transform:scaleX(0.775);transform-origin:100% 0;color:#1a1a1a;">9,760.4</div>
<div class="t" style="right:355.20px;top:245.21px;font-size:7.6px;line-height:9.12px;font-weight:bold;transform:scaleX(0.775);transform-origin:100% 0;color:#1a1a1a;">10,151.9</div>
<div class="t" style="right:327.80px;top:245.21px;font-size:7.6px;line-height:9.12px;font-weight:bold;transform:scaleX(0.775);transform-origin:100% 0;color:#1a1a1a;">10,464.8</div>
<div class="t" style="right:300.20px;top:245.21px;font-size:7.6px;line-height:9.12px;font-weight:bold;transform:scaleX(0.775);transform-origin:100% 0;color:#1a1a1a;">10,698.6</div>
<div class="t" style="right:273.20px;top:245.21px;font-size:7.6px;line-height:9.12px;font-weight:bold;transform:scaleX(0.775);transform-origin:100% 0;color:#1a1a1a;">8,265.6</div>
<div class="t" style="right:245.90px;top:245.21px;font-size:7.6px;line-height:9.12px;font-weight:bold;transform:scaleX(0.775);transform-origin:100% 0;color:#1a1a1a;">7,917.0</div>
<div class="t" style="right:218.50px;top:245.21px;font-size:7.6px;line-height:9.12px;font-weight:bold;transform:scaleX(0.775);transform-origin:100% 0;color:#1a1a1a;">7,993.4</div>
<div class="t" style="right:190.90px;top:245.21px;font-size:7.6px;line-height:9.12px;font-weight:bold;transform:scaleX(0.775);transform-origin:100% 0;color:#1a1a1a;">8,214.3</div>
<div class="t" style="right:163.70px;top:245.21px;font-size:7.6px;line-height:9.12px;font-weight:bold;transform:scaleX(0.775);transform-origin:100% 0;color:#1a1a1a;">8,378.5</div>
<div class="t" style="right:135.50px;top:245.21px;font-size:7.6px;line-height:9.12px;font-weight:bold;transform:scaleX(0.775);transform-origin:100% 0;color:#1a1a1a;">8,476.0</div>
<div class="t" style="right:110.00px;top:245.21px;font-size:7.6px;line-height:9.12px;font-weight:bold;transform:scaleX(0.775);transform-origin:100% 0;color:#1a1a1a;">457.1</div>
<div class="t" style="right:83.80px;top:245.21px;font-size:7.6px;line-height:9.12px;font-weight:bold;transform:scaleX(0.775);transform-origin:100% 0;color:#1a1a1a;">164.3</div>
<div class="t" style="right:58.30px;top:245.21px;font-size:7.6px;line-height:9.12px;font-weight:bold;transform:scaleX(0.775);transform-origin:100% 0;color:#1a1a1a;">97.5</div>
<div class="t" style="left:75.30px;top:254.31px;font-size:7.6px;line-height:9.12px;transform:scaleX(0.768);transform-origin:0 0;color:#1a1a1a;">Household consumption</div>
<div class="t" style="left:76.70px;top:263.21px;font-size:7.6px;line-height:9.12px;transform:scaleX(0.768);transform-origin:0 0;color:#1a1a1a;">expenditures (for services)</div>
<div class="t" style="left:-142.30px;width:400px;text-align:center;top:254.31px;font-size:7.6px;line-height:9.12px;transform:scaleX(0.776);transform-origin:50% 0;color:#1a1a1a;">15</div>
<div class="t" style="right:45.50px;top:263.21px;font-size:7.6px;line-height:9.12px;transform:scaleX(0.776);transform-origin:100% 0;color:#1a1a1a;">15</div>
<div class="t" style="right:437.40px;top:263.21px;font-size:7.6px;line-height:9.12px;transform:scaleX(0.79);transform-origin:100% 0;color:#1a1a1a;">9,785.6</div>
<div class="t" style="right:409.80px;top:263.21px;font-size:7.6px;line-height:9.12px;transform:scaleX(0.79);transform-origin:100% 0;color:#1a1a1a;">9,109.0</div>
<div class="t" style="right:382.50px;top:263.21px;font-size:7.6px;line-height:9.12px;transform:scaleX(0.79);transform-origin:100% 0;color:#1a1a1a;">9,281.7</div>
<div class="t" style="right:355.20px;top:263.21px;font-size:7.6px;line-height:9.12px;transform:scaleX(0.79);transform-origin:100% 0;color:#1a1a1a;">9,684.8</div>
<div class="t" style="right:327.80px;top:263.21px;font-size:7.6px;line-height:9.12px;transform:scaleX(0.79);transform-origin:100% 0;color:#1a1a1a;">9,984.4</div>
<div class="t" style="right:300.20px;top:263.21px;font-size:7.6px;line-height:9.12px;transform:scaleX(0.79);transform-origin:100% 0;color:#1a1a1a;">10,191.6</div>
<div class="t" style="right:273.20px;top:263.21px;font-size:7.6px;line-height:9.12px;transform:scaleX(0.79);transform-origin:100% 0;color:#1a1a1a;">7,910.3</div>
<div class="t" style="right:245.90px;top:263.21px;font-size:7.6px;line-height:9.12px;transform:scaleX(0.79);transform-origin:100% 0;color:#1a1a1a;">7,531.9</div>
<div class="t" style="right:218.50px;top:263.21px;font-size:7.6px;line-height:9.12px;transform:scaleX(0.79);transform-origin:100% 0;color:#1a1a1a;">7,622.4</div>
<div class="t" style="right:190.90px;top:263.21px;font-size:7.6px;line-height:9.12px;transform:scaleX(0.79);transform-origin:100% 0;color:#1a1a1a;">7,863.1</div>
<div class="t" style="right:163.70px;top:263.21px;font-size:7.6px;line-height:9.12px;transform:scaleX(0.79);transform-origin:100% 0;color:#1a1a1a;">8,031.4</div>
<div class="t" style="right:135.50px;top:263.21px;font-size:7.6px;line-height:9.12px;transform:scaleX(0.79);transform-origin:100% 0;color:#1a1a1a;">8,124.2</div>
<div class="t" style="right:110.00px;top:263.21px;font-size:7.6px;line-height:9.12px;transform:scaleX(0.79);transform-origin:100% 0;color:#1a1a1a;">516.8</div>
<div class="t" style="right:83.80px;top:263.21px;font-size:7.6px;line-height:9.12px;transform:scaleX(0.79);transform-origin:100% 0;color:#1a1a1a;">168.3</div>
<div class="t" style="right:58.30px;top:263.21px;font-size:7.6px;line-height:9.12px;transform:scaleX(0.79);transform-origin:100% 0;color:#1a1a1a;">92.8</div>
<div class="t" style="left:80.80px;top:272.81px;font-size:7.6px;line-height:9.12px;transform:scaleX(0.768);transform-origin:0 0;color:#1a1a1a;">Housing and utilities</div>
<div class="t" style="left:-142.30px;width:400px;text-align:center;top:272.81px;font-size:7.6px;line-height:9.12px;transform:scaleX(0.776);transform-origin:50% 0;color:#1a1a1a;">16</div>
<div class="t" style="right:45.50px;top:272.81px;font-size:7.6px;line-height:9.12px;transform:scaleX(0.776);transform-origin:100% 0;color:#1a1a1a;">16</div>
<div class="t" style="right:437.40px;top:272.81px;font-size:7.6px;line-height:9.12px;transform:scaleX(0.79);transform-origin:100% 0;color:#1a1a1a;">2,777.4</div>
<div class="t" style="right:409.80px;top:272.81px;font-size:7.6px;line-height:9.12px;transform:scaleX(0.79);transform-origin:100% 0;color:#1a1a1a;">2,699.7</div>
<div class="t" style="right:382.50px;top:272.81px;font-size:7.6px;line-height:9.12px;transform:scaleX(0.79);transform-origin:100% 0;color:#1a1a1a;">2,727.2</div>
<div class="t" style="right:355.20px;top:272.81px;font-size:7.6px;line-height:9.12px;transform:scaleX(0.79);transform-origin:100% 0;color:#1a1a1a;">2,753.4</div>
<div class="t" style="right:327.80px;top:272.81px;font-size:7.6px;line-height:9.12px;transform:scaleX(0.79);transform-origin:100% 0;color:#1a1a1a;">2,792.6</div>
<div class="t" style="right:300.20px;top:272.81px;font-size:7.6px;line-height:9.12px;transform:scaleX(0.79);transform-origin:100% 0;color:#1a1a1a;">2,836.3</div>
<div class="t" style="right:273.20px;top:272.81px;font-size:7.6px;line-height:9.12px;transform:scaleX(0.79);transform-origin:100% 0;color:#1a1a1a;">2,148.2</div>
<div class="t" style="right:245.90px;top:272.81px;font-size:7.6px;line-height:9.12px;transform:scaleX(0.79);transform-origin:100% 0;color:#1a1a1a;">2,132.5</div>
<div class="t" style="right:218.50px;top:272.81px;font-size:7.6px;line-height:9.12px;transform:scaleX(0.79);transform-origin:100% 0;color:#1a1a1a;">2,142.4</div>
<div class="t" style="right:190.90px;top:272.81px;font-size:7.6px;line-height:9.12px;transform:scaleX(0.79);transform-origin:100% 0;color:#1a1a1a;">2,143.9</div>
<div class="t" style="right:163.70px;top:272.81px;font-size:7.6px;line-height:9.12px;transform:scaleX(0.79);transform-origin:100% 0;color:#1a1a1a;">2,152.5</div>
<div class="t" style="right:135.50px;top:272.81px;font-size:7.6px;line-height:9.12px;transform:scaleX(0.79);transform-origin:100% 0;color:#1a1a1a;">2,153.8</div>
<div class="t" style="right:110.00px;top:272.81px;font-size:7.6px;line-height:9.12px;transform:scaleX(0.79);transform-origin:100% 0;color:#1a1a1a;">23.9</div>
<div class="t" style="right:83.80px;top:272.81px;font-size:7.6px;line-height:9.12px;transform:scaleX(0.79);transform-origin:100% 0;color:#1a1a1a;">8.6</div>
<div class="t" style="right:58.30px;top:272.81px;font-size:7.6px;line-height:9.12px;transform:scaleX(0.79);transform-origin:100% 0;color:#1a1a1a;">1.3</div>
<div class="t" style="left:80.80px;top:282.61px;font-size:7.6px;line-height:9.12px;transform:scaleX(0.768);transform-origin:0 0;color:#1a1a1a;">Health care</div>
<div class="t" style="left:-142.30px;width:400px;text-align:center;top:282.61px;font-size:7.6px;line-height:9.12px;transform:scaleX(0.776);transform-origin:50% 0;color:#1a1a1a;">17</div>
<div class="t" style="right:45.50px;top:282.61px;font-size:7.6px;line-height:9.12px;transform:scaleX(0.776);transform-origin:100% 0;color:#1a1a1a;">17</div>
<div class="t" style="right:437.40px;top:282.61px;font-size:7.6px;line-height:9.12px;transform:scaleX(0.79);transform-origin:100% 0;color:#1a1a1a;">2,550.7</div>
<div class="t" style="right:409.80px;top:282.61px;font-size:7.6px;line-height:9.12px;transform:scaleX(0.79);transform-origin:100% 0;color:#1a1a1a;">2,457.2</div>
<div class="t" style="right:382.50px;top:282.61px;font-size:7.6px;line-height:9.12px;transform:scaleX(0.79);transform-origin:100% 0;color:#1a1a1a;">2,464.2</div>
<div class="t" style="right:355.20px;top:282.61px;font-size:7.6px;line-height:9.12px;transform:scaleX(0.79);transform-origin:100% 0;color:#1a1a1a;">2,534.4</div>
<div class="t" style="right:327.80px;top:282.61px;font-size:7.6px;line-height:9.12px;transform:scaleX(0.79);transform-origin:100% 0;color:#1a1a1a;">2,574.5</div>
<div class="t" style="right:300.20px;top:282.61px;font-size:7.6px;line-height:9.12px;transform:scaleX(0.79);transform-origin:100% 0;color:#1a1a1a;">2,629.8</div>
<div class="t" style="right:273.20px;top:282.61px;font-size:7.6px;line-height:9.12px;transform:scaleX(0.79);transform-origin:100% 0;color:#1a1a1a;">2,203.4</div>
<div class="t" style="right:245.90px;top:282.61px;font-size:7.6px;line-height:9.12px;transform:scaleX(0.79);transform-origin:100% 0;color:#1a1a1a;">2,164.4</div>
<div class="t" style="right:218.50px;top:282.61px;font-size:7.6px;line-height:9.12px;transform:scaleX(0.79);transform-origin:100% 0;color:#1a1a1a;">2,140.7</div>
<div class="t" style="right:190.90px;top:282.61px;font-size:7.6px;line-height:9.12px;transform:scaleX(0.79);transform-origin:100% 0;color:#1a1a1a;">2,193.6</div>
<div class="t" style="right:163.70px;top:282.61px;font-size:7.6px;line-height:9.12px;transform:scaleX(0.79);transform-origin:100% 0;color:#1a1a1a;">2,219.8</div>
<div class="t" style="right:135.50px;top:282.61px;font-size:7.6px;line-height:9.12px;transform:scaleX(0.79);transform-origin:100% 0;color:#1a1a1a;">2,259.6</div>
<div class="t" style="right:110.00px;top:282.61px;font-size:7.6px;line-height:9.12px;transform:scaleX(0.79);transform-origin:100% 0;color:#1a1a1a;">151.6</div>
<div class="t" style="right:83.80px;top:282.61px;font-size:7.6px;line-height:9.12px;transform:scaleX(0.79);transform-origin:100% 0;color:#1a1a1a;">26.2</div>
<div class="t" style="right:58.30px;top:282.61px;font-size:7.6px;line-height:9.12px;transform:scaleX(0.79);transform-origin:100% 0;color:#1a1a1a;">39.7</div>
<div class="t" style="left:80.80px;top:292.81px;font-size:7.6px;line-height:9.12px;transform:scaleX(0.768);transform-origin:0 0;color:#1a1a1a;">Transportation services</div>
<div class="t" style="left:-142.30px;width:400px;text-align:center;top:292.81px;font-size:7.6px;line-height:9.12px;transform:scaleX(0.776);transform-origin:50% 0;color:#1a1a1a;">18</div>
<div class="t" style="right:45.50px;top:292.81px;font-size:7.6px;line-height:9.12px;transform:scaleX(0.776);transform-origin:100% 0;color:#1a1a1a;">18</div>
<div class="t" style="right:437.40px;top:292.81px;font-size:7.6px;line-height:9.12px;transform:scaleX(0.79);transform-origin:100% 0;color:#1a1a1a;">433.6</div>
<div class="t" style="right:409.80px;top:292.81px;font-size:7.6px;line-height:9.12px;transform:scaleX(0.79);transform-origin:100% 0;color:#1a1a1a;">352.8</div>
<div class="t" style="right:382.50px;top:292.81px;font-size:7.6px;line-height:9.12px;transform:scaleX(0.79);transform-origin:100% 0;color:#1a1a1a;">356.8</div>
<div class="t" style="right:355.20px;top:292.81px;font-size:7.6px;line-height:9.12px;transform:scaleX(0.79);transform-origin:100% 0;color:#1a1a1a;">417.3</div>
<div class="t" style="right:327.80px;top:292.81px;font-size:7.6px;line-height:9.12px;transform:scaleX(0.79);transform-origin:100% 0;color:#1a1a1a;">467.8</div>
<div class="t" style="right:300.20px;top:292.81px;font-size:7.6px;line-height:9.12px;transform:scaleX(0.79);transform-origin:100% 0;color:#1a1a1a;">492.5</div>
<div class="t" style="right:273.20px;top:292.81px;font-size:7.6px;line-height:9.12px;transform:scaleX(0.79);transform-origin:100% 0;color:#1a1a1a;">381.5</div>
<div class="t" style="right:245.90px;top:292.81px;font-size:7.6px;line-height:9.12px;transform:scaleX(0.79);transform-origin:100% 0;color:#1a1a1a;">325.8</div>
<div class="t" style="right:218.50px;top:292.81px;font-size:7.6px;line-height:9.12px;transform:scaleX(0.79);transform-origin:100% 0;color:#1a1a1a;">330.1</div>
<div class="t" style="right:190.90px;top:292.81px;font-size:7.6px;line-height:9.12px;transform:scaleX(0.79);transform-origin:100% 0;color:#1a1a1a;">366.5</div>
<div class="t" style="right:163.70px;top:292.81px;font-size:7.6px;line-height:9.12px;transform:scaleX(0.79);transform-origin:100% 0;color:#1a1a1a;">405.2</div>
<div class="t" style="right:135.50px;top:292.81px;font-size:7.6px;line-height:9.12px;transform:scaleX(0.79);transform-origin:100% 0;color:#1a1a1a;">424.3</div>
<div class="t" style="right:110.00px;top:292.81px;font-size:7.6px;line-height:9.12px;transform:scaleX(0.79);transform-origin:100% 0;color:#1a1a1a;">44.4</div>
<div class="t" style="right:83.80px;top:292.81px;font-size:7.6px;line-height:9.12px;transform:scaleX(0.79);transform-origin:100% 0;color:#1a1a1a;">38.7</div>
<div class="t" style="right:58.30px;top:292.81px;font-size:7.6px;line-height:9.12px;transform:scaleX(0.79);transform-origin:100% 0;color:#1a1a1a;">19.1</div>
<div class="t" style="left:80.80px;top:302.61px;font-size:7.6px;line-height:9.12px;transform:scaleX(0.768);transform-origin:0 0;color:#1a1a1a;">Recreation services</div>
<div class="t" style="left:-142.30px;width:400px;text-align:center;top:302.61px;font-size:7.6px;line-height:9.12px;transform:scaleX(0.776);transform-origin:50% 0;color:#1a1a1a;">19</div>
<div class="t" style="right:45.50px;top:302.61px;font-size:7.6px;line-height:9.12px;transform:scaleX(0.776);transform-origin:100% 0;color:#1a1a1a;">19</div>
<div class="t" style="right:437.40px;top:302.61px;font-size:7.6px;line-height:9.12px;transform:scaleX(0.79);transform-origin:100% 0;color:#1a1a1a;">504.1</div>
<div class="t" style="right:409.80px;top:302.61px;font-size:7.6px;line-height:9.12px;transform:scaleX(0.79);transform-origin:100% 0;color:#1a1a1a;">415.0</div>
<div class="t" style="right:382.50px;top:302.61px;font-size:7.6px;line-height:9.12px;transform:scaleX(0.79);transform-origin:100% 0;color:#1a1a1a;">442.5</div>
<div class="t" style="right:355.20px;top:302.61px;font-size:7.6px;line-height:9.12px;transform:scaleX(0.79);transform-origin:100% 0;color:#1a1a1a;">490.5</div>
<div class="t" style="right:327.80px;top:302.61px;font-size:7.6px;line-height:9.12px;transform:scaleX(0.79);transform-origin:100% 0;color:#1a1a1a;">525.9</div>
<div class="t" style="right:300.20px;top:302.61px;font-size:7.6px;line-height:9.12px;transform:scaleX(0.79);transform-origin:100% 0;color:#1a1a1a;">557.3</div>
<div class="t" style="right:273.20px;top:302.61px;font-size:7.6px;line-height:9.12px;transform:scaleX(0.79);transform-origin:100% 0;color:#1a1a1a;">413.4</div>
<div class="t" style="right:245.90px;top:302.61px;font-size:7.6px;line-height:9.12px;transform:scaleX(0.79);transform-origin:100% 0;color:#1a1a1a;">349.0</div>
<div class="t" style="right:218.50px;top:302.61px;font-size:7.6px;line-height:9.12px;transform:scaleX(0.79);transform-origin:100% 0;color:#1a1a1a;">371.1</div>
<div class="t" style="right:190.90px;top:302.61px;font-size:7.6px;line-height:9.12px;transform:scaleX(0.79);transform-origin:100% 0;color:#1a1a1a;">404.6</div>
<div class="t" style="right:163.70px;top:302.61px;font-size:7.6px;line-height:9.12px;transform:scaleX(0.79);transform-origin:100% 0;color:#1a1a1a;">428.9</div>
<div class="t" style="right:135.50px;top:302.61px;font-size:7.6px;line-height:9.12px;transform:scaleX(0.79);transform-origin:100% 0;color:#1a1a1a;">449.0</div>
<div class="t" style="right:110.00px;top:302.61px;font-size:7.6px;line-height:9.12px;transform:scaleX(0.79);transform-origin:100% 0;color:#1a1a1a;">59.8</div>
<div class="t" style="right:83.80px;top:302.61px;font-size:7.6px;line-height:9.12px;transform:scaleX(0.79);transform-origin:100% 0;color:#1a1a1a;">24.3</div>
<div class="t" style="right:58.30px;top:302.61px;font-size:7.6px;line-height:9.12px;transform:scaleX(0.79);transform-origin:100% 0;color:#1a1a1a;">20.1</div>
<div class="t" style="left:80.80px;top:311.61px;font-size:7.6px;line-height:9.12px;transform:scaleX(0.768);transform-origin:0 0;color:#1a1a1a;">Food services and</div>
<div class="t" style="left:82.20px;top:320.51px;font-size:7.6px;line-height:9.12px;transform:scaleX(0.768);transform-origin:0 0;color:#1a1a1a;">accommodations</div>
<div class="t" style="left:-142.30px;width:400px;text-align:center;top:311.61px;font-size:7.6px;line-height:9.12px;transform:scaleX(0.776);transform-origin:50% 0;color:#1a1a1a;">20</div>
<div class="t" style="right:45.50px;top:320.51px;font-size:7.6px;line-height:9.12px;transform:scaleX(0.776);transform-origin:100% 0;color:#1a1a1a;">20</div>
<div class="t" style="right:437.40px;top:320.51px;font-size:7.6px;line-height:9.12px;transform:scaleX(0.79);transform-origin:100% 0;color:#1a1a1a;">1,026.4</div>
<div class="t" style="right:409.80px;top:320.51px;font-size:7.6px;line-height:9.12px;transform:scaleX(0.79);transform-origin:100% 0;color:#1a1a1a;">826.1</div>
<div class="t" style="right:382.50px;top:320.51px;font-size:7.6px;line-height:9.12px;transform:scaleX(0.79);transform-origin:100% 0;color:#1a1a1a;">888.3</div>
<div class="t" style="right:355.20px;top:320.51px;font-size:7.6px;line-height:9.12px;transform:scaleX(0.79);transform-origin:100% 0;color:#1a1a1a;">1,028.7</div>
<div class="t" style="right:327.80px;top:320.51px;font-size:7.6px;line-height:9.12px;transform:scaleX(0.79);transform-origin:100% 0;color:#1a1a1a;">1,083.1</div>
<div class="t" style="right:300.20px;top:320.51px;font-size:7.6px;line-height:9.12px;transform:scaleX(0.79);transform-origin:100% 0;color:#1a1a1a;">1,105.2</div>
<div class="t" style="right:273.20px;top:320.51px;font-size:7.6px;line-height:9.12px;transform:scaleX(0.79);transform-origin:100% 0;color:#1a1a1a;">814.7</div>
<div class="t" style="right:245.90px;top:320.51px;font-size:7.6px;line-height:9.12px;transform:scaleX(0.79);transform-origin:100% 0;color:#1a1a1a;">676.1</div>
<div class="t" style="right:218.50px;top:320.51px;font-size:7.6px;line-height:9.12px;transform:scaleX(0.79);transform-origin:100% 0;color:#1a1a1a;">725.9</div>
<div class="t" style="right:190.90px;top:320.51px;font-size:7.6px;line-height:9.12px;transform:scaleX(0.79);transform-origin:100% 0;color:#1a1a1a;">826.4</div>
<div class="t" style="right:163.70px;top:320.51px;font-size:7.6px;line-height:9.12px;transform:scaleX(0.79);transform-origin:100% 0;color:#1a1a1a;">851.6</div>
<div class="t" style="right:135.50px;top:320.51px;font-size:7.6px;line-height:9.12px;transform:scaleX(0.79);transform-origin:100% 0;color:#1a1a1a;">855.1</div>
<div class="t" style="right:110.00px;top:320.51px;font-size:7.6px;line-height:9.12px;transform:scaleX(0.79);transform-origin:100% 0;color:#1a1a1a;">151.6</div>
<div class="t" style="right:83.80px;top:320.51px;font-size:7.6px;line-height:9.12px;transform:scaleX(0.79);transform-origin:100% 0;color:#1a1a1a;">25.2</div>
<div class="t" style="right:58.30px;top:320.51px;font-size:7.6px;line-height:9.12px;transform:scaleX(0.79);transform-origin:100% 0;color:#1a1a1a;">3.5</div>
<div class="t" style="left:80.80px;top:330.11px;font-size:7.6px;line-height:9.12px;transform:scaleX(0.768);transform-origin:0 0;color:#1a1a1a;">Financial services and</div>
<div class="t" style="left:82.20px;top:339.01px;font-size:7.6px;line-height:9.12px;transform:scaleX(0.768);transform-origin:0 0;color:#1a1a1a;">insurance</div>
<div class="t" style="left:-142.30px;width:400px;text-align:center;top:339.01px;font-size:7.6px;line-height:9.12px;transform:scaleX(0.776);transform-origin:50% 0;color:#1a1a1a;">21</div>
<div class="t" style="right:45.50px;top:339.01px;font-size:7.6px;line-height:9.12px;transform:scaleX(0.776);transform-origin:100% 0;color:#1a1a1a;">21</div>
<div class="t" style="right:437.40px;top:339.01px;font-size:7.6px;line-height:9.12px;transform:scaleX(0.79);transform-origin:100% 0;color:#1a1a1a;">1,270.1</div>
<div class="t" style="right:409.80px;top:339.01px;font-size:7.6px;line-height:9.12px;transform:scaleX(0.79);transform-origin:100% 0;color:#1a1a1a;">1,222.0</div>
<div class="t" style="right:382.50px;top:339.01px;font-size:7.6px;line-height:9.12px;transform:scaleX(0.79);transform-origin:100% 0;color:#1a1a1a;">1,244.9</div>
<div class="t" style="right:355.20px;top:339.01px;font-size:7.6px;line-height:9.12px;transform:scaleX(0.79);transform-origin:100% 0;color:#1a1a1a;">1,256.4</div>
<div class="t" style="right:327.80px;top:339.01px;font-size:7.6px;line-height:9.12px;transform:scaleX(0.79);transform-origin:100% 0;color:#1a1a1a;">1,276.3</div>
<div class="t" style="right:300.20px;top:339.01px;font-size:7.6px;line-height:9.12px;transform:scaleX(0.79);transform-origin:100% 0;color:#1a1a1a;">1,302.8</div>
<div class="t" style="right:273.20px;top:339.01px;font-size:7.6px;line-height:9.12px;transform:scaleX(0.79);transform-origin:100% 0;color:#1a1a1a;">877.5</div>
<div class="t" style="right:245.90px;top:339.01px;font-size:7.6px;line-height:9.12px;transform:scaleX(0.79);transform-origin:100% 0;color:#1a1a1a;">864.7</div>
<div class="t" style="right:218.50px;top:339.01px;font-size:7.6px;line-height:9.12px;transform:scaleX(0.79);transform-origin:100% 0;color:#1a1a1a;">874.7</div>
<div class="t" style="right:190.90px;top:339.01px;font-size:7.6px;line-height:9.12px;transform:scaleX(0.79);transform-origin:100% 0;color:#1a1a1a;">867.9</div>
<div class="t" style="right:163.70px;top:339.01px;font-size:7.6px;line-height:9.12px;transform:scaleX(0.79);transform-origin:100% 0;color:#1a1a1a;">876.6</div>
<div class="t" style="right:135.50px;top:339.01px;font-size:7.6px;line-height:9.12px;transform:scaleX(0.79);transform-origin:100% 0;color:#1a1a1a;">890.6</div>
<div class="t" style="right:110.00px;top:339.01px;font-size:7.6px;line-height:9.12px;transform:scaleX(0.79);transform-origin:100% 0;color:#1a1a1a;">25.9</div>
<div class="t" style="right:83.80px;top:339.01px;font-size:7.6px;line-height:9.12px;transform:scaleX(0.79);transform-origin:100% 0;color:#1a1a1a;">8.7</div>
<div class="t" style="right:58.30px;top:339.01px;font-size:7.6px;line-height:9.12px;transform:scaleX(0.79);transform-origin:100% 0;color:#1a1a1a;">14.0</div>
<div class="t" style="left:80.80px;top:348.41px;font-size:7.6px;line-height:9.12px;transform:scaleX(0.768);transform-origin:0 0;color:#1a1a1a;">Other services</div>
<div class="t" style="left:-142.30px;width:400px;text-align:center;top:348.41px;font-size:7.6px;line-height:9.12px;transform:scaleX(0.776);transform-origin:50% 0;color:#1a1a1a;">22</div>
<div class="t" style="right:45.50px;top:348.41px;font-size:7.6px;line-height:9.12px;transform:scaleX(0.776);transform-origin:100% 0;color:#1a1a1a;">22</div>
<div class="t" style="right:437.40px;top:348.41px;font-size:7.6px;line-height:9.12px;transform:scaleX(0.79);transform-origin:100% 0;color:#1a1a1a;">1,223.4</div>
<div class="t" style="right:409.80px;top:348.41px;font-size:7.6px;line-height:9.12px;transform:scaleX(0.79);transform-origin:100% 0;color:#1a1a1a;">1,136.1</div>
<div class="t" style="right:382.50px;top:348.41px;font-size:7.6px;line-height:9.12px;transform:scaleX(0.79);transform-origin:100% 0;color:#1a1a1a;">1,157.8</div>
<div class="t" style="right:355.20px;top:348.41px;font-size:7.6px;line-height:9.12px;transform:scaleX(0.79);transform-origin:100% 0;color:#1a1a1a;">1,204.0</div>
<div class="t" style="right:327.80px;top:348.41px;font-size:7.6px;line-height:9.12px;transform:scaleX(0.79);transform-origin:100% 0;color:#1a1a1a;">1,264.1</div>
<div class="t" style="right:300.20px;top:348.41px;font-size:7.6px;line-height:9.12px;transform:scaleX(0.79);transform-origin:100% 0;color:#1a1a1a;">1,267.6</div>
<div class="t" style="right:273.20px;top:348.41px;font-size:7.6px;line-height:9.12px;transform:scaleX(0.79);transform-origin:100% 0;color:#1a1a1a;">1,076.8</div>
<div class="t" style="right:245.90px;top:348.41px;font-size:7.6px;line-height:9.12px;transform:scaleX(0.79);transform-origin:100% 0;color:#1a1a1a;">1,015.5</div>
<div class="t" style="right:218.50px;top:348.41px;font-size:7.6px;line-height:9.12px;transform:scaleX(0.79);transform-origin:100% 0;color:#1a1a1a;">1,031.8</div>
<div class="t" style="right:190.90px;top:348.41px;font-size:7.6px;line-height:9.12px;transform:scaleX(0.79);transform-origin:100% 0;color:#1a1a1a;">1,064.4</div>
<div class="t" style="right:163.70px;top:348.41px;font-size:7.6px;line-height:9.12px;transform:scaleX(0.79);transform-origin:100% 0;color:#1a1a1a;">1,107.2</div>
<div class="t" style="right:135.50px;top:348.41px;font-size:7.6px;line-height:9.12px;transform:scaleX(0.79);transform-origin:100% 0;color:#1a1a1a;">1,103.9</div>
<div class="t" style="right:110.00px;top:348.41px;font-size:7.6px;line-height:9.12px;transform:scaleX(0.79);transform-origin:100% 0;color:#1a1a1a;">72.9</div>
<div class="t" style="right:83.80px;top:348.41px;font-size:7.6px;line-height:9.12px;transform:scaleX(0.79);transform-origin:100% 0;color:#1a1a1a;">42.8</div>
<div class="t" style="right:58.30px;top:348.41px;font-size:7.6px;line-height:9.12px;transform:scaleX(0.79);transform-origin:100% 0;color:#1a1a1a;">-3.3</div>
<div class="t" style="left:75.30px;top:357.71px;font-size:7.6px;line-height:9.12px;transform:scaleX(0.768);transform-origin:0 0;color:#1a1a1a;">Final consumption expenditures of</div>
<div class="t" style="left:75.30px;top:366.61px;font-size:7.6px;line-height:9.12px;transform:scaleX(0.768);transform-origin:0 0;color:#1a1a1a;">nonprofit institutions serving</div>
<div class="t" style="left:75.30px;top:375.51px;font-size:7.6px;line-height:9.12px;transform:scaleX(0.768);transform-origin:0 0;color:#1a1a1a;">households</div>
<div class="t" style="left:-142.30px;width:400px;text-align:center;top:357.71px;font-size:7.6px;line-height:9.12px;transform:scaleX(0.776);transform-origin:50% 0;color:#1a1a1a;">23</div>
<div class="t" style="right:45.50px;top:375.51px;font-size:7.6px;line-height:9.12px;transform:scaleX(0.776);transform-origin:100% 0;color:#1a1a1a;">23</div>
<div class="t" style="right:437.40px;top:375.51px;font-size:7.6px;line-height:9.12px;transform:scaleX(0.79);transform-origin:100% 0;color:#1a1a1a;">483.3</div>
<div class="t" style="right:409.80px;top:375.51px;font-size:7.6px;line-height:9.12px;transform:scaleX(0.79);transform-origin:100% 0;color:#1a1a1a;">491.4</div>
<div class="t" style="right:382.50px;top:375.51px;font-size:7.6px;line-height:9.12px;transform:scaleX(0.79);transform-origin:100% 0;color:#1a1a1a;">478.7</div>
<div class="t" style="right:355.20px;top:375.51px;font-size:7.6px;line-height:9.12px;transform:scaleX(0.79);transform-origin:100% 0;color:#1a1a1a;">467.1</div>
<div class="t" style="right:327.80px;top:375.51px;font-size:7.6px;line-height:9.12px;transform:scaleX(0.79);transform-origin:100% 0;color:#1a1a1a;">480.4</div>
<div class="t" style="right:300.20px;top:375.51px;font-size:7.6px;line-height:9.12px;transform:scaleX(0.79);transform-origin:100% 0;color:#1a1a1a;">507.0</div>
<div class="t" style="right:273.20px;top:375.51px;font-size:7.6px;line-height:9.12px;transform:scaleX(0.79);transform-origin:100% 0;color:#1a1a1a;">356.3</div>
<div class="t" style="right:245.90px;top:375.51px;font-size:7.6px;line-height:9.12px;transform:scaleX(0.79);transform-origin:100% 0;color:#1a1a1a;">383.2</div>
<div class="t" style="right:218.50px;top:375.51px;font-size:7.6px;line-height:9.12px;transform:scaleX(0.79);transform-origin:100% 0;color:#1a1a1a;">370.1</div>
<div class="t" style="right:190.90px;top:375.51px;font-size:7.6px;line-height:9.12px;transform:scaleX(0.79);transform-origin:100% 0;color:#1a1a1a;">352.2</div>
<div class="t" style="right:163.70px;top:375.51px;font-size:7.6px;line-height:9.12px;transform:scaleX(0.79);transform-origin:100% 0;color:#1a1a1a;">349.1</div>
<div class="t" style="right:135.50px;top:375.51px;font-size:7.6px;line-height:9.12px;transform:scaleX(0.79);transform-origin:100% 0;color:#1a1a1a;">353.7</div>
<div class="t" style="right:110.00px;top:375.51px;font-size:7.6px;line-height:9.12px;transform:scaleX(0.79);transform-origin:100% 0;color:#1a1a1a;">-55.1</div>
<div class="t" style="right:83.80px;top:375.51px;font-size:7.6px;line-height:9.12px;transform:scaleX(0.79);transform-origin:100% 0;color:#1a1a1a;">-3.1</div>
<div class="t" style="right:58.30px;top:375.51px;font-size:7.6px;line-height:9.12px;transform:scaleX(0.79);transform-origin:100% 0;color:#1a1a1a;">4.6</div>
<div class="t" style="left:80.80px;top:384.41px;font-size:7.6px;line-height:9.12px;transform:scaleX(0.768);transform-origin:0 0;color:#1a1a1a;">Gross output of nonprofit</div>
<div class="t" style="left:82.20px;top:393.31px;font-size:7.6px;line-height:9.12px;transform:scaleX(0.768);transform-origin:0 0;color:#1a1a1a;">institutions</div>
<div class="t" style="left:-142.30px;width:400px;text-align:center;top:384.41px;font-size:7.6px;line-height:9.12px;transform:scaleX(0.776);transform-origin:50% 0;color:#1a1a1a;">24</div>
<div class="t" style="right:45.50px;top:393.31px;font-size:7.6px;line-height:9.12px;transform:scaleX(0.776);transform-origin:100% 0;color:#1a1a1a;">24</div>
<div class="t" style="right:437.40px;top:393.31px;font-size:7.6px;line-height:9.12px;transform:scaleX(0.79);transform-origin:100% 0;color:#1a1a1a;">1,723.3</div>
<div class="t" style="right:409.80px;top:393.31px;font-size:7.6px;line-height:9.12px;transform:scaleX(0.79);transform-origin:100% 0;color:#1a1a1a;">1,685.5</div>
<div class="t" style="right:382.50px;top:393.31px;font-size:7.6px;line-height:9.12px;transform:scaleX(0.79);transform-origin:100% 0;color:#1a1a1a;">1,672.7</div>
<div class="t" style="right:355.20px;top:393.31px;font-size:7.6px;line-height:9.12px;transform:scaleX(0.79);transform-origin:100% 0;color:#1a1a1a;">1,708.5</div>
<div class="t" style="right:327.80px;top:393.31px;font-size:7.6px;line-height:9.12px;transform:scaleX(0.79);transform-origin:100% 0;color:#1a1a1a;">1,733.1</div>
<div class="t" style="right:300.20px;top:393.31px;font-size:7.6px;line-height:9.12px;transform:scaleX(0.79);transform-origin:100% 0;color:#1a1a1a;">1,778.9</div>
<div class="t" style="right:273.20px;top:393.31px;font-size:7.6px;line-height:9.12px;transform:scaleX(0.79);transform-origin:100% 0;color:#1a1a1a;">1,378.5</div>
<div class="t" style="right:245.90px;top:393.31px;font-size:7.6px;line-height:9.12px;transform:scaleX(0.79);transform-origin:100% 0;color:#1a1a1a;">1,388.1</div>
<div class="t" style="right:218.50px;top:393.31px;font-size:7.6px;line-height:9.12px;transform:scaleX(0.79);transform-origin:100% 0;color:#1a1a1a;">1,363.0</div>
<div class="t" style="right:190.90px;top:393.31px;font-size:7.6px;line-height:9.12px;transform:scaleX(0.79);transform-origin:100% 0;color:#1a1a1a;">1,377.4</div>
<div class="t" style="right:163.70px;top:393.31px;font-size:7.6px;line-height:9.12px;transform:scaleX(0.79);transform-origin:100% 0;color:#1a1a1a;">1,378.4</div>
<div class="t" style="right:135.50px;top:393.31px;font-size:7.6px;line-height:9.12px;transform:scaleX(0.79);transform-origin:100% 0;color:#1a1a1a;">1,395.3</div>
<div class="t" style="right:110.00px;top:393.31px;font-size:7.6px;line-height:9.12px;transform:scaleX(0.79);transform-origin:100% 0;color:#1a1a1a;">9.2</div>
<div class="t" style="right:83.80px;top:393.31px;font-size:7.6px;line-height:9.12px;transform:scaleX(0.79);transform-origin:100% 0;color:#1a1a1a;">1.0</div>
<div class="t" style="right:58.30px;top:393.31px;font-size:7.6px;line-height:9.12px;transform:scaleX(0.79);transform-origin:100% 0;color:#1a1a1a;">16.9</div>
<div class="t" style="left:80.80px;top:403.31px;font-size:7.6px;line-height:9.12px;transform:scaleX(0.768);transform-origin:0 0;color:#1a1a1a;">Less: Receipts from sales of</div>
<div class="t" style="left:82.20px;top:412.21px;font-size:7.6px;line-height:9.12px;transform:scaleX(0.768);transform-origin:0 0;color:#1a1a1a;">goods and services by nonprofit</div>
<div class="t" style="left:82.20px;top:421.11px;font-size:7.6px;line-height:9.12px;transform:scaleX(0.768);transform-origin:0 0;color:#1a1a1a;">institutions</div>
<div class="t" style="left:-142.30px;width:400px;text-align:center;top:403.31px;font-size:7.6px;line-height:9.12px;transform:scaleX(0.776);transform-origin:50% 0;color:#1a1a1a;">25</div>
<div class="t" style="right:45.50px;top:421.11px;font-size:7.6px;line-height:9.12px;transform:scaleX(0.776);transform-origin:100% 0;color:#1a1a1a;">25</div>
<div class="t" style="right:437.40px;top:421.11px;font-size:7.6px;line-height:9.12px;transform:scaleX(0.79);transform-origin:100% 0;color:#1a1a1a;">1,240.0</div>
<div class="t" style="right:409.80px;top:421.11px;font-size:7.6px;line-height:9.12px;transform:scaleX(0.79);transform-origin:100% 0;color:#1a1a1a;">1,194.1</div>
<div class="t" style="right:382.50px;top:421.11px;font-size:7.6px;line-height:9.12px;transform:scaleX(0.79);transform-origin:100% 0;color:#1a1a1a;">1,194.0</div>
<div class="t" style="right:355.20px;top:421.11px;font-size:7.6px;line-height:9.12px;transform:scaleX(0.79);transform-origin:100% 0;color:#1a1a1a;">1,241.5</div>
<div class="t" style="right:327.80px;top:421.11px;font-size:7.6px;line-height:9.12px;transform:scaleX(0.79);transform-origin:100% 0;color:#1a1a1a;">1,252.7</div>
<div class="t" style="right:300.20px;top:421.11px;font-size:7.6px;line-height:9.12px;transform:scaleX(0.79);transform-origin:100% 0;color:#1a1a1a;">1,271.9</div>
<div class="t" style="right:273.20px;top:421.11px;font-size:7.6px;line-height:9.12px;transform:scaleX(0.79);transform-origin:100% 0;color:#1a1a1a;">1,023.0</div>
<div class="t" style="right:245.90px;top:421.11px;font-size:7.6px;line-height:9.12px;transform:scaleX(0.79);transform-origin:100% 0;color:#1a1a1a;">1,003.6</div>
<div class="t" style="right:218.50px;top:421.11px;font-size:7.6px;line-height:9.12px;transform:scaleX(0.79);transform-origin:100% 0;color:#1a1a1a;">992.1</div>
<div class="t" style="right:190.90px;top:421.11px;font-size:7.6px;line-height:9.12px;transform:scaleX(0.79);transform-origin:100% 0;color:#1a1a1a;">1,026.3</div>
<div class="t" style="right:163.70px;top:421.11px;font-size:7.6px;line-height:9.12px;transform:scaleX(0.79);transform-origin:100% 0;color:#1a1a1a;">1,030.7</div>
<div class="t" style="right:135.50px;top:421.11px;font-size:7.6px;line-height:9.12px;transform:scaleX(0.79);transform-origin:100% 0;color:#1a1a1a;">1,042.9</div>
<div class="t" style="right:110.00px;top:421.11px;font-size:7.6px;line-height:9.12px;transform:scaleX(0.79);transform-origin:100% 0;color:#1a1a1a;">68.8</div>
<div class="t" style="right:83.80px;top:421.11px;font-size:7.6px;line-height:9.12px;transform:scaleX(0.79);transform-origin:100% 0;color:#1a1a1a;">4.5</div>
<div class="t" style="right:58.30px;top:421.11px;font-size:7.6px;line-height:9.12px;transform:scaleX(0.79);transform-origin:100% 0;color:#1a1a1a;">12.2</div>
<div class="t" style="left:65.20px;top:430.61px;font-size:7.6px;line-height:9.12px;font-weight:bold;transform:scaleX(0.776);transform-origin:0 0;color:#1a1a1a;">Gross private domestic investment</div>
<div class="t" style="left:-142.30px;width:400px;text-align:center;top:430.61px;font-size:7.6px;line-height:9.12px;transform:scaleX(0.776);transform-origin:50% 0;color:#1a1a1a;">26</div>
<div class="t" style="right:45.50px;top:430.61px;font-size:7.6px;line-height:9.12px;transform:scaleX(0.776);transform-origin:100% 0;color:#1a1a1a;">26</div>
<div class="t" style="right:437.40px;top:430.61px;font-size:7.6px;line-height:9.12px;font-weight:bold;transform:scaleX(0.775);transform-origin:100% 0;color:#1a1a1a;">4,137.4</div>
<div class="t" style="right:409.80px;top:430.61px;font-size:7.6px;line-height:9.12px;font-weight:bold;transform:scaleX(0.775);transform-origin:100% 0;color:#1a1a1a;">3,925.2</div>
<div class="t" style="right:382.50px;top:430.61px;font-size:7.6px;line-height:9.12px;font-weight:bold;transform:scaleX(0.775);transform-origin:100% 0;color:#1a1a1a;">3,933.1</div>
<div class="t" style="right:355.20px;top:430.61px;font-size:7.6px;line-height:9.12px;font-weight:bold;transform:scaleX(0.775);transform-origin:100% 0;color:#1a1a1a;">3,985.7</div>
<div class="t" style="right:327.80px;top:430.61px;font-size:7.6px;line-height:9.12px;font-weight:bold;transform:scaleX(0.775);transform-origin:100% 0;color:#1a1a1a;">4,187.2</div>
<div class="t" style="right:300.20px;top:430.61px;font-size:7.6px;line-height:9.12px;font-weight:bold;transform:scaleX(0.775);transform-origin:100% 0;color:#1a1a1a;">4,443.5</div>
<div class="t" style="right:273.20px;top:430.61px;font-size:7.6px;line-height:9.12px;font-weight:bold;transform:scaleX(0.775);transform-origin:100% 0;color:#1a1a1a;">3,578.4</div>
<div class="t" style="right:245.90px;top:430.61px;font-size:7.6px;line-height:9.12px;font-weight:bold;transform:scaleX(0.775);transform-origin:100% 0;color:#1a1a1a;">3,446.5</div>
<div class="t" style="right:218.50px;top:430.61px;font-size:7.6px;line-height:9.12px;font-weight:bold;transform:scaleX(0.775);transform-origin:100% 0;color:#1a1a1a;">3,433.3</div>
<div class="t" style="right:190.90px;top:430.61px;font-size:7.6px;line-height:9.12px;font-weight:bold;transform:scaleX(0.775);transform-origin:100% 0;color:#1a1a1a;">3,456.3</div>
<div class="t" style="right:163.70px;top:430.61px;font-size:7.6px;line-height:9.12px;font-weight:bold;transform:scaleX(0.775);transform-origin:100% 0;color:#1a1a1a;">3,608.8</div>
<div class="t" style="right:135.50px;top:430.61px;font-size:7.6px;line-height:9.12px;font-weight:bold;transform:scaleX(0.775);transform-origin:100% 0;color:#1a1a1a;">3,815.1</div>
<div class="t" style="right:110.00px;top:430.61px;font-size:7.6px;line-height:9.12px;font-weight:bold;transform:scaleX(0.775);transform-origin:100% 0;color:#1a1a1a;">273.5</div>
<div class="t" style="right:83.80px;top:430.61px;font-size:7.6px;line-height:9.12px;font-weight:bold;transform:scaleX(0.775);transform-origin:100% 0;color:#1a1a1a;">153.3</div>
<div class="t" style="right:58.30px;top:430.61px;font-size:7.6px;line-height:9.12px;font-weight:bold;transform:scaleX(0.775);transform-origin:100% 0;color:#1a1a1a;">206.8</div>
</div>
<div class="w" style="left:507.7px;top:378.85px;font-size:14.0px;line-height:17.0px;color:rgba(160,160,160,0.72);transform:scaleX(1.02);transform-origin:0 0">Activate Windows</div>
<div class="w" style="left:506.4px;top:396.29px;font-size:11.0px;line-height:13.0px;color:rgba(160,160,160,0.72);transform:scaleX(0.99);transform-origin:0 0">Go to Settings to activate Windows.</div>
<div class="r" style="left:0.00px;top:434.00px;width:640.00px;height:4.00px;background:linear-gradient(to right,#1e3a44 0%,#1c3340 30%,#1b2b3d 65%,#1a2743 100%);"></div>
<div class="r" style="left:0.00px;top:434.00px;width:9.50px;height:4.00px;background:#4e656c;"></div>
<div class="r" style="left:9.50px;top:434.00px;width:2.50px;height:4.00px;background:#2b3d44;"></div>
</body></html>
